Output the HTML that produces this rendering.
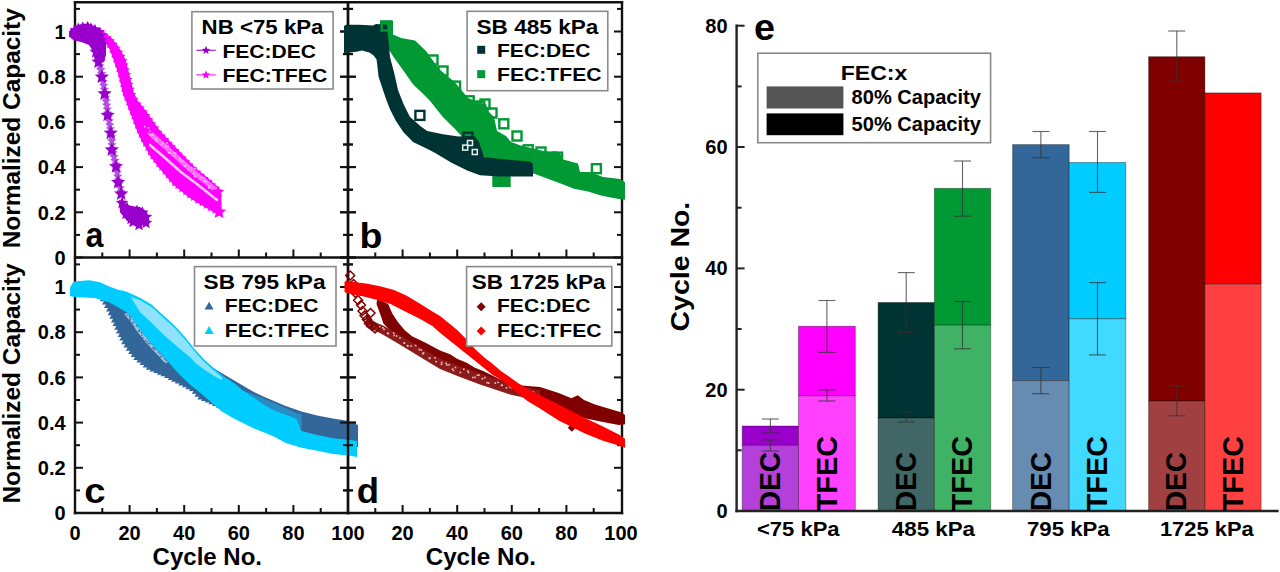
<!DOCTYPE html><html><head><meta charset="utf-8"><style>html,body{margin:0;padding:0;background:#fff;width:1280px;height:572px;overflow:hidden}svg{display:block}text{font-family:"Liberation Sans",sans-serif;font-weight:bold}</style></head><body><svg width="1280" height="572" viewBox="0 0 1280 572">
<rect width="1280" height="572" fill="#fff"/>
<defs><clipPath id="ca"><rect x="69.0" y="2.2" width="289.0" height="255.3"/></clipPath><clipPath id="cb"><rect x="344.0" y="2.2" width="281.0" height="255.3"/></clipPath><clipPath id="cc"><rect x="69.0" y="257.5" width="289.0" height="255.5"/></clipPath><clipPath id="cd"><rect x="344.0" y="257.5" width="281.0" height="255.5"/></clipPath></defs>
<line x1="75.0" y1="1.2000000000000002" x2="75.0" y2="514.2" stroke="#111" stroke-width="2.4"/>
<line x1="348.0" y1="1.2000000000000002" x2="348.0" y2="514.2" stroke="#111" stroke-width="2.4"/>
<line x1="622.0" y1="1.2000000000000002" x2="622.0" y2="514.2" stroke="#111" stroke-width="2.4"/>
<line x1="73.8" y1="2.2" x2="623.2" y2="2.2" stroke="#111" stroke-width="2.4"/>
<line x1="73.8" y1="257.5" x2="623.2" y2="257.5" stroke="#111" stroke-width="2.4"/>
<line x1="73.8" y1="513.0" x2="623.2" y2="513.0" stroke="#111" stroke-width="2.4"/>
<line x1="75.0" y1="257.5" x2="83.0" y2="257.5" stroke="#111" stroke-width="2.0"/>
<line x1="340.0" y1="257.5" x2="356.0" y2="257.5" stroke="#111" stroke-width="2.0"/>
<line x1="614.0" y1="257.5" x2="622.0" y2="257.5" stroke="#111" stroke-width="2.0"/>
<line x1="75.0" y1="234.9" x2="80.0" y2="234.9" stroke="#111" stroke-width="2.0"/>
<line x1="343.0" y1="234.9" x2="353.0" y2="234.9" stroke="#111" stroke-width="2.0"/>
<line x1="617.0" y1="234.9" x2="622.0" y2="234.9" stroke="#111" stroke-width="2.0"/>
<line x1="75.0" y1="212.3" x2="83.0" y2="212.3" stroke="#111" stroke-width="2.0"/>
<line x1="340.0" y1="212.3" x2="356.0" y2="212.3" stroke="#111" stroke-width="2.0"/>
<line x1="614.0" y1="212.3" x2="622.0" y2="212.3" stroke="#111" stroke-width="2.0"/>
<line x1="75.0" y1="189.7" x2="80.0" y2="189.7" stroke="#111" stroke-width="2.0"/>
<line x1="343.0" y1="189.7" x2="353.0" y2="189.7" stroke="#111" stroke-width="2.0"/>
<line x1="617.0" y1="189.7" x2="622.0" y2="189.7" stroke="#111" stroke-width="2.0"/>
<line x1="75.0" y1="167.1" x2="83.0" y2="167.1" stroke="#111" stroke-width="2.0"/>
<line x1="340.0" y1="167.1" x2="356.0" y2="167.1" stroke="#111" stroke-width="2.0"/>
<line x1="614.0" y1="167.1" x2="622.0" y2="167.1" stroke="#111" stroke-width="2.0"/>
<line x1="75.0" y1="144.5" x2="80.0" y2="144.5" stroke="#111" stroke-width="2.0"/>
<line x1="343.0" y1="144.5" x2="353.0" y2="144.5" stroke="#111" stroke-width="2.0"/>
<line x1="617.0" y1="144.5" x2="622.0" y2="144.5" stroke="#111" stroke-width="2.0"/>
<line x1="75.0" y1="121.9" x2="83.0" y2="121.9" stroke="#111" stroke-width="2.0"/>
<line x1="340.0" y1="121.9" x2="356.0" y2="121.9" stroke="#111" stroke-width="2.0"/>
<line x1="614.0" y1="121.9" x2="622.0" y2="121.9" stroke="#111" stroke-width="2.0"/>
<line x1="75.0" y1="99.3" x2="80.0" y2="99.3" stroke="#111" stroke-width="2.0"/>
<line x1="343.0" y1="99.3" x2="353.0" y2="99.3" stroke="#111" stroke-width="2.0"/>
<line x1="617.0" y1="99.3" x2="622.0" y2="99.3" stroke="#111" stroke-width="2.0"/>
<line x1="75.0" y1="76.7" x2="83.0" y2="76.7" stroke="#111" stroke-width="2.0"/>
<line x1="340.0" y1="76.7" x2="356.0" y2="76.7" stroke="#111" stroke-width="2.0"/>
<line x1="614.0" y1="76.7" x2="622.0" y2="76.7" stroke="#111" stroke-width="2.0"/>
<line x1="75.0" y1="54.1" x2="80.0" y2="54.1" stroke="#111" stroke-width="2.0"/>
<line x1="343.0" y1="54.1" x2="353.0" y2="54.1" stroke="#111" stroke-width="2.0"/>
<line x1="617.0" y1="54.1" x2="622.0" y2="54.1" stroke="#111" stroke-width="2.0"/>
<line x1="75.0" y1="31.5" x2="83.0" y2="31.5" stroke="#111" stroke-width="2.0"/>
<line x1="340.0" y1="31.5" x2="356.0" y2="31.5" stroke="#111" stroke-width="2.0"/>
<line x1="614.0" y1="31.5" x2="622.0" y2="31.5" stroke="#111" stroke-width="2.0"/>
<line x1="75.0" y1="8.9" x2="80.0" y2="8.9" stroke="#111" stroke-width="2.0"/>
<line x1="343.0" y1="8.9" x2="353.0" y2="8.9" stroke="#111" stroke-width="2.0"/>
<line x1="617.0" y1="8.9" x2="622.0" y2="8.9" stroke="#111" stroke-width="2.0"/>
<line x1="75.0" y1="513.0" x2="83.0" y2="513.0" stroke="#111" stroke-width="2.0"/>
<line x1="340.0" y1="513.0" x2="356.0" y2="513.0" stroke="#111" stroke-width="2.0"/>
<line x1="614.0" y1="513.0" x2="622.0" y2="513.0" stroke="#111" stroke-width="2.0"/>
<line x1="75.0" y1="490.4" x2="80.0" y2="490.4" stroke="#111" stroke-width="2.0"/>
<line x1="343.0" y1="490.4" x2="353.0" y2="490.4" stroke="#111" stroke-width="2.0"/>
<line x1="617.0" y1="490.4" x2="622.0" y2="490.4" stroke="#111" stroke-width="2.0"/>
<line x1="75.0" y1="467.8" x2="83.0" y2="467.8" stroke="#111" stroke-width="2.0"/>
<line x1="340.0" y1="467.8" x2="356.0" y2="467.8" stroke="#111" stroke-width="2.0"/>
<line x1="614.0" y1="467.8" x2="622.0" y2="467.8" stroke="#111" stroke-width="2.0"/>
<line x1="75.0" y1="445.2" x2="80.0" y2="445.2" stroke="#111" stroke-width="2.0"/>
<line x1="343.0" y1="445.2" x2="353.0" y2="445.2" stroke="#111" stroke-width="2.0"/>
<line x1="617.0" y1="445.2" x2="622.0" y2="445.2" stroke="#111" stroke-width="2.0"/>
<line x1="75.0" y1="422.6" x2="83.0" y2="422.6" stroke="#111" stroke-width="2.0"/>
<line x1="340.0" y1="422.6" x2="356.0" y2="422.6" stroke="#111" stroke-width="2.0"/>
<line x1="614.0" y1="422.6" x2="622.0" y2="422.6" stroke="#111" stroke-width="2.0"/>
<line x1="75.0" y1="400.0" x2="80.0" y2="400.0" stroke="#111" stroke-width="2.0"/>
<line x1="343.0" y1="400.0" x2="353.0" y2="400.0" stroke="#111" stroke-width="2.0"/>
<line x1="617.0" y1="400.0" x2="622.0" y2="400.0" stroke="#111" stroke-width="2.0"/>
<line x1="75.0" y1="377.4" x2="83.0" y2="377.4" stroke="#111" stroke-width="2.0"/>
<line x1="340.0" y1="377.4" x2="356.0" y2="377.4" stroke="#111" stroke-width="2.0"/>
<line x1="614.0" y1="377.4" x2="622.0" y2="377.4" stroke="#111" stroke-width="2.0"/>
<line x1="75.0" y1="354.8" x2="80.0" y2="354.8" stroke="#111" stroke-width="2.0"/>
<line x1="343.0" y1="354.8" x2="353.0" y2="354.8" stroke="#111" stroke-width="2.0"/>
<line x1="617.0" y1="354.8" x2="622.0" y2="354.8" stroke="#111" stroke-width="2.0"/>
<line x1="75.0" y1="332.2" x2="83.0" y2="332.2" stroke="#111" stroke-width="2.0"/>
<line x1="340.0" y1="332.2" x2="356.0" y2="332.2" stroke="#111" stroke-width="2.0"/>
<line x1="614.0" y1="332.2" x2="622.0" y2="332.2" stroke="#111" stroke-width="2.0"/>
<line x1="75.0" y1="309.6" x2="80.0" y2="309.6" stroke="#111" stroke-width="2.0"/>
<line x1="343.0" y1="309.6" x2="353.0" y2="309.6" stroke="#111" stroke-width="2.0"/>
<line x1="617.0" y1="309.6" x2="622.0" y2="309.6" stroke="#111" stroke-width="2.0"/>
<line x1="75.0" y1="287.0" x2="83.0" y2="287.0" stroke="#111" stroke-width="2.0"/>
<line x1="340.0" y1="287.0" x2="356.0" y2="287.0" stroke="#111" stroke-width="2.0"/>
<line x1="614.0" y1="287.0" x2="622.0" y2="287.0" stroke="#111" stroke-width="2.0"/>
<line x1="75.0" y1="264.4" x2="80.0" y2="264.4" stroke="#111" stroke-width="2.0"/>
<line x1="343.0" y1="264.4" x2="353.0" y2="264.4" stroke="#111" stroke-width="2.0"/>
<line x1="617.0" y1="264.4" x2="622.0" y2="264.4" stroke="#111" stroke-width="2.0"/>
<line x1="102.3" y1="257.5" x2="102.3" y2="252.5" stroke="#111" stroke-width="2.0"/>
<line x1="129.6" y1="257.5" x2="129.6" y2="249.5" stroke="#111" stroke-width="2.0"/>
<line x1="156.9" y1="257.5" x2="156.9" y2="252.5" stroke="#111" stroke-width="2.0"/>
<line x1="184.2" y1="257.5" x2="184.2" y2="249.5" stroke="#111" stroke-width="2.0"/>
<line x1="211.5" y1="257.5" x2="211.5" y2="252.5" stroke="#111" stroke-width="2.0"/>
<line x1="238.8" y1="257.5" x2="238.8" y2="249.5" stroke="#111" stroke-width="2.0"/>
<line x1="266.1" y1="257.5" x2="266.1" y2="252.5" stroke="#111" stroke-width="2.0"/>
<line x1="293.4" y1="257.5" x2="293.4" y2="249.5" stroke="#111" stroke-width="2.0"/>
<line x1="320.7" y1="257.5" x2="320.7" y2="252.5" stroke="#111" stroke-width="2.0"/>
<line x1="375.3" y1="257.5" x2="375.3" y2="252.5" stroke="#111" stroke-width="2.0"/>
<line x1="402.6" y1="257.5" x2="402.6" y2="249.5" stroke="#111" stroke-width="2.0"/>
<line x1="429.9" y1="257.5" x2="429.9" y2="252.5" stroke="#111" stroke-width="2.0"/>
<line x1="457.2" y1="257.5" x2="457.2" y2="249.5" stroke="#111" stroke-width="2.0"/>
<line x1="484.5" y1="257.5" x2="484.5" y2="252.5" stroke="#111" stroke-width="2.0"/>
<line x1="511.8" y1="257.5" x2="511.8" y2="249.5" stroke="#111" stroke-width="2.0"/>
<line x1="539.1" y1="257.5" x2="539.1" y2="252.5" stroke="#111" stroke-width="2.0"/>
<line x1="566.4" y1="257.5" x2="566.4" y2="249.5" stroke="#111" stroke-width="2.0"/>
<line x1="593.7" y1="257.5" x2="593.7" y2="252.5" stroke="#111" stroke-width="2.0"/>
<line x1="102.3" y1="513.0" x2="102.3" y2="508.0" stroke="#111" stroke-width="2.0"/>
<line x1="129.6" y1="513.0" x2="129.6" y2="505.0" stroke="#111" stroke-width="2.0"/>
<line x1="156.9" y1="513.0" x2="156.9" y2="508.0" stroke="#111" stroke-width="2.0"/>
<line x1="184.2" y1="513.0" x2="184.2" y2="505.0" stroke="#111" stroke-width="2.0"/>
<line x1="211.5" y1="513.0" x2="211.5" y2="508.0" stroke="#111" stroke-width="2.0"/>
<line x1="238.8" y1="513.0" x2="238.8" y2="505.0" stroke="#111" stroke-width="2.0"/>
<line x1="266.1" y1="513.0" x2="266.1" y2="508.0" stroke="#111" stroke-width="2.0"/>
<line x1="293.4" y1="513.0" x2="293.4" y2="505.0" stroke="#111" stroke-width="2.0"/>
<line x1="320.7" y1="513.0" x2="320.7" y2="508.0" stroke="#111" stroke-width="2.0"/>
<line x1="375.3" y1="513.0" x2="375.3" y2="508.0" stroke="#111" stroke-width="2.0"/>
<line x1="402.6" y1="513.0" x2="402.6" y2="505.0" stroke="#111" stroke-width="2.0"/>
<line x1="429.9" y1="513.0" x2="429.9" y2="508.0" stroke="#111" stroke-width="2.0"/>
<line x1="457.2" y1="513.0" x2="457.2" y2="505.0" stroke="#111" stroke-width="2.0"/>
<line x1="484.5" y1="513.0" x2="484.5" y2="508.0" stroke="#111" stroke-width="2.0"/>
<line x1="511.8" y1="513.0" x2="511.8" y2="505.0" stroke="#111" stroke-width="2.0"/>
<line x1="539.1" y1="513.0" x2="539.1" y2="508.0" stroke="#111" stroke-width="2.0"/>
<line x1="566.4" y1="513.0" x2="566.4" y2="505.0" stroke="#111" stroke-width="2.0"/>
<line x1="593.7" y1="513.0" x2="593.7" y2="508.0" stroke="#111" stroke-width="2.0"/>
<g clip-path="url(#ca)">
<polygon points="96.0,26.9 103.2,31.8 110.2,36.7 115.8,43.0 121.5,51.4 125.6,59.8 128.5,71.0 131.2,82.1 134.0,93.3 138.0,101.0 144.8,109.4 152.6,120.6 159.4,130.0 170.0,141.5 181.5,153.6 197.2,169.4 209.0,179.0 221.0,190.0 222.0,217.0 205.1,207.2 189.4,197.7 173.6,185.1 167.6,178.0 159.2,168.0 150.8,157.0 143.8,144.8 138.2,133.6 134.0,122.4 129.8,111.2 125.6,100.0 123.2,94.7 121.1,85.0 118.3,73.7 114.2,61.2 110.0,50.0 104.0,40.0 98.0,34.0" fill="#ff00ff" />
<polygon points="94.3,24.2 95.7,27.5 99.3,27.8 96.5,30.1 97.4,33.6 94.3,31.7 91.3,33.6 92.1,30.1 89.4,27.8 92.9,27.5" fill="#ff00ff" />
<polygon points="98.4,27.0 99.8,30.3 103.4,30.6 100.7,32.9 101.5,36.4 98.4,34.5 95.4,36.4 96.2,32.9 93.5,30.6 97.1,30.3" fill="#ff00ff" />
<polygon points="102.5,29.8 103.9,33.1 107.5,33.4 104.8,35.7 105.6,39.2 102.5,37.3 99.5,39.2 100.3,35.7 97.6,33.4 101.2,33.1" fill="#ff00ff" />
<polygon points="106.6,32.7 108.0,36.0 111.6,36.3 108.9,38.6 109.7,42.1 106.6,40.2 103.6,42.1 104.4,38.6 101.7,36.3 105.3,36.0" fill="#ff00ff" />
<polygon points="109.8,35.5 111.2,38.9 114.7,39.1 112.0,41.5 112.8,45.0 109.8,43.1 106.7,45.0 107.6,41.5 104.8,39.1 108.4,38.9" fill="#ff00ff" />
<polygon points="113.1,39.3 114.5,42.6 118.0,42.9 115.3,45.2 116.2,48.7 113.1,46.8 110.0,48.7 110.9,45.2 108.2,42.9 111.7,42.6" fill="#ff00ff" />
<polygon points="115.7,43.1 117.1,46.4 120.7,46.6 118.0,49.0 118.8,52.5 115.7,50.6 112.7,52.5 113.5,49.0 110.8,46.6 114.4,46.4" fill="#ff00ff" />
<polygon points="118.5,47.2 119.9,50.5 123.5,50.8 120.8,53.1 121.6,56.6 118.5,54.7 115.5,56.6 116.3,53.1 113.6,50.8 117.2,50.5" fill="#ff00ff" />
<polygon points="120.6,51.3 122.0,54.6 125.6,54.9 122.9,57.2 123.7,60.7 120.6,58.8 117.6,60.7 118.4,57.2 115.7,54.9 119.3,54.6" fill="#ff00ff" />
<polygon points="122.8,55.8 124.2,59.1 127.8,59.3 125.0,61.7 125.9,65.2 122.8,63.3 119.8,65.2 120.6,61.7 117.9,59.3 121.4,59.1" fill="#ff00ff" />
<polygon points="123.9,60.0 125.3,63.3 128.8,63.6 126.1,65.9 127.0,69.4 123.9,67.6 120.8,69.4 121.7,65.9 119.0,63.6 122.5,63.3" fill="#ff00ff" />
<polygon points="125.2,64.9 126.5,68.2 130.1,68.5 127.4,70.8 128.2,74.3 125.2,72.4 122.1,74.3 122.9,70.8 120.2,68.5 123.8,68.2" fill="#ff00ff" />
<polygon points="126.4,69.7 127.7,73.0 131.3,73.3 128.6,75.6 129.4,79.1 126.4,77.2 123.3,79.1 124.1,75.6 121.4,73.3 125.0,73.0" fill="#ff00ff" />
<polygon points="127.5,74.5 128.9,77.8 132.5,78.1 129.8,80.4 130.6,83.9 127.5,82.1 124.5,83.9 125.3,80.4 122.6,78.1 126.2,77.8" fill="#ff00ff" />
<polygon points="128.7,79.4 130.1,82.7 133.7,83.0 131.0,85.3 131.8,88.8 128.7,86.9 125.7,88.8 126.5,85.3 123.8,83.0 127.4,82.7" fill="#ff00ff" />
<polygon points="129.9,84.2 131.3,87.6 134.9,87.8 132.2,90.2 133.0,93.7 129.9,91.8 126.9,93.7 127.7,90.2 125.0,87.8 128.6,87.6" fill="#ff00ff" />
<polygon points="131.5,89.7 132.8,93.0 136.4,93.3 133.7,95.7 134.5,99.1 131.5,97.3 128.4,99.1 129.2,95.7 126.5,93.3 130.1,93.0" fill="#ff00ff" />
<polygon points="133.8,94.2 135.1,97.5 138.7,97.8 136.0,100.1 136.8,103.6 133.8,101.7 130.7,103.6 131.5,100.1 128.8,97.8 132.4,97.5" fill="#ff00ff" />
<polygon points="136.7,98.9 138.1,102.2 141.6,102.5 138.9,104.9 139.7,108.3 136.7,106.5 133.6,108.3 134.5,104.9 131.7,102.5 135.3,102.2" fill="#ff00ff" />
<polygon points="139.8,102.8 141.2,106.1 144.8,106.4 142.0,108.7 142.9,112.2 139.8,110.4 136.8,112.2 137.6,108.7 134.9,106.4 138.4,106.1" fill="#ff00ff" />
<polygon points="142.8,106.6 144.2,109.9 147.7,110.2 145.0,112.5 145.8,116.0 142.8,114.1 139.7,116.0 140.6,112.5 137.8,110.2 141.4,109.9" fill="#ff00ff" />
<polygon points="145.7,110.7 147.0,114.0 150.6,114.3 147.9,116.6 148.7,120.1 145.7,118.2 142.6,120.1 143.4,116.6 140.7,114.3 144.3,114.0" fill="#ff00ff" />
<polygon points="148.5,114.8 149.9,118.1 153.5,118.4 150.7,120.7 151.6,124.2 148.5,122.3 145.5,124.2 146.3,120.7 143.6,118.4 147.1,118.1" fill="#ff00ff" />
<polygon points="151.4,118.9 152.8,122.2 156.4,122.5 153.7,124.8 154.5,128.3 151.4,126.4 148.4,128.3 149.2,124.8 146.5,122.5 150.1,122.2" fill="#ff00ff" />
<polygon points="154.4,122.9 155.7,126.3 159.3,126.5 156.6,128.9 157.4,132.4 154.4,130.5 151.3,132.4 152.1,128.9 149.4,126.5 153.0,126.3" fill="#ff00ff" />
<polygon points="157.6,127.2 158.9,130.5 162.5,130.8 159.8,133.2 160.6,136.6 157.6,134.8 154.5,136.6 155.3,133.2 152.6,130.8 156.2,130.5" fill="#ff00ff" />
<polygon points="161.0,130.9 162.3,134.2 165.9,134.5 163.2,136.8 164.0,140.3 161.0,138.5 157.9,140.3 158.7,136.8 156.0,134.5 159.6,134.2" fill="#ff00ff" />
<polygon points="164.3,134.6 165.7,137.9 169.3,138.2 166.6,140.5 167.4,144.0 164.3,142.1 161.3,144.0 162.1,140.5 159.4,138.2 163.0,137.9" fill="#ff00ff" />
<polygon points="167.7,138.3 169.1,141.6 172.7,141.9 170.0,144.2 170.8,147.7 167.7,145.8 164.7,147.7 165.5,144.2 162.8,141.9 166.4,141.6" fill="#ff00ff" />
<polygon points="171.2,141.9 172.6,145.2 176.2,145.5 173.4,147.8 174.3,151.3 171.2,149.5 168.1,151.3 169.0,147.8 166.3,145.5 169.8,145.2" fill="#ff00ff" />
<polygon points="174.6,145.5 176.0,148.9 179.6,149.1 176.9,151.5 177.7,155.0 174.6,153.1 171.6,155.0 172.4,151.5 169.7,149.1 173.3,148.9" fill="#ff00ff" />
<polygon points="178.1,149.2 179.5,152.5 183.0,152.8 180.3,155.1 181.2,158.6 178.1,156.7 175.0,158.6 175.9,155.1 173.1,152.8 176.7,152.5" fill="#ff00ff" />
<polygon points="181.6,152.8 183.0,156.1 186.6,156.4 183.9,158.7 184.7,162.2 181.6,160.3 178.6,162.2 179.4,158.7 176.7,156.4 180.3,156.1" fill="#ff00ff" />
<polygon points="185.2,156.3 186.5,159.6 190.1,159.9 187.4,162.3 188.2,165.7 185.2,163.9 182.1,165.7 182.9,162.3 180.2,159.9 183.8,159.6" fill="#ff00ff" />
<polygon points="188.7,159.9 190.1,163.2 193.6,163.5 190.9,165.8 191.7,169.3 188.7,167.4 185.6,169.3 186.5,165.8 183.7,163.5 187.3,163.2" fill="#ff00ff" />
<polygon points="192.2,163.4 193.6,166.7 197.2,167.0 194.4,169.4 195.3,172.8 192.2,171.0 189.2,172.8 190.0,169.4 187.3,167.0 190.8,166.7" fill="#ff00ff" />
<polygon points="196.0,167.1 197.4,170.4 201.0,170.7 198.3,173.0 199.1,176.5 196.0,174.7 193.0,176.5 193.8,173.0 191.1,170.7 194.7,170.4" fill="#ff00ff" />
<polygon points="199.9,170.3 201.3,173.6 204.9,173.9 202.1,176.2 203.0,179.7 199.9,177.8 196.9,179.7 197.7,176.2 195.0,173.9 198.5,173.6" fill="#ff00ff" />
<polygon points="203.8,173.4 205.2,176.7 208.7,177.0 206.0,179.4 206.8,182.8 203.8,181.0 200.7,182.8 201.6,179.4 198.8,177.0 202.4,176.7" fill="#ff00ff" />
<polygon points="207.5,176.5 208.9,179.8 212.5,180.1 209.7,182.4 210.6,185.9 207.5,184.0 204.5,185.9 205.3,182.4 202.6,180.1 206.1,179.8" fill="#ff00ff" />
<polygon points="211.2,179.9 212.6,183.2 216.1,183.5 213.4,185.8 214.3,189.3 211.2,187.4 208.1,189.3 209.0,185.8 206.2,183.5 209.8,183.2" fill="#ff00ff" />
<polygon points="214.9,183.3 216.3,186.6 219.8,186.9 217.1,189.2 217.9,192.7 214.9,190.8 211.8,192.7 212.7,189.2 209.9,186.9 213.5,186.6" fill="#ff00ff" />
<polygon points="218.6,186.6 219.9,189.9 223.5,190.2 220.8,192.6 221.6,196.0 218.6,194.2 215.5,196.0 216.3,192.6 213.6,190.2 217.2,189.9" fill="#ff00ff" />
<polygon points="100.1,26.7 101.5,30.0 105.1,30.3 102.3,32.6 103.2,36.1 100.1,34.2 97.1,36.1 97.9,32.6 95.2,30.3 98.7,30.0" fill="#ff00ff" />
<polygon points="103.7,30.2 105.0,33.5 108.6,33.8 105.9,36.1 106.7,39.6 103.7,37.8 100.6,39.6 101.4,36.1 98.7,33.8 102.3,33.5" fill="#ff00ff" />
<polygon points="107.4,34.6 108.7,37.9 112.3,38.1 109.6,40.5 110.4,44.0 107.4,42.1 104.3,44.0 105.1,40.5 102.4,38.1 106.0,37.9" fill="#ff00ff" />
<polygon points="109.9,38.8 111.3,42.1 114.9,42.4 112.1,44.8 113.0,48.2 109.9,46.4 106.9,48.2 107.7,44.8 105.0,42.4 108.5,42.1" fill="#ff00ff" />
<polygon points="112.5,43.1 113.9,46.4 117.4,46.7 114.7,49.1 115.6,52.5 112.5,50.7 109.4,52.5 110.3,49.1 107.6,46.7 111.1,46.4" fill="#ff00ff" />
<polygon points="114.5,48.3 115.9,51.6 119.5,51.9 116.7,54.2 117.6,57.7 114.5,55.8 111.5,57.7 112.3,54.2 109.6,51.9 113.1,51.6" fill="#ff00ff" />
<polygon points="116.3,53.0 117.6,56.3 121.2,56.6 118.5,58.9 119.3,62.4 116.3,60.5 113.2,62.4 114.0,58.9 111.3,56.6 114.9,56.3" fill="#ff00ff" />
<polygon points="118.0,57.8 119.3,61.1 122.9,61.4 120.2,63.7 121.0,67.2 118.0,65.4 114.9,67.2 115.7,63.7 113.0,61.4 116.6,61.1" fill="#ff00ff" />
<polygon points="119.5,62.6 120.9,65.9 124.5,66.2 121.7,68.5 122.6,72.0 119.5,70.1 116.5,72.0 117.3,68.5 114.6,66.2 118.1,65.9" fill="#ff00ff" />
<polygon points="121.1,67.3 122.4,70.6 126.0,70.9 123.3,73.2 124.1,76.7 121.1,74.9 118.0,76.7 118.8,73.2 116.1,70.9 119.7,70.6" fill="#ff00ff" />
<polygon points="122.4,72.4 123.7,75.7 127.3,76.0 124.6,78.3 125.4,81.8 122.4,79.9 119.3,81.8 120.1,78.3 117.4,76.0 121.0,75.7" fill="#ff00ff" />
<polygon points="123.6,77.2 124.9,80.5 128.5,80.8 125.8,83.2 126.6,86.6 123.6,84.8 120.5,86.6 121.3,83.2 118.6,80.8 122.2,80.5" fill="#ff00ff" />
<polygon points="124.7,82.2 126.1,85.5 129.6,85.8 126.9,88.1 127.7,91.6 124.7,89.7 121.6,91.6 122.5,88.1 119.7,85.8 123.3,85.5" fill="#ff00ff" />
<polygon points="125.7,87.1 127.1,90.4 130.7,90.7 128.0,93.0 128.8,96.5 125.7,94.6 122.7,96.5 123.5,93.0 120.8,90.7 124.4,90.4" fill="#ff00ff" />
<polygon points="127.2,91.1 128.6,94.5 132.2,94.7 129.5,97.1 130.3,100.6 127.2,98.7 124.2,100.6 125.0,97.1 122.3,94.7 125.9,94.5" fill="#ff00ff" />
<polygon points="129.2,95.9 130.6,99.3 134.2,99.5 131.5,101.9 132.3,105.4 129.2,103.5 126.2,105.4 127.0,101.9 124.3,99.5 127.9,99.3" fill="#ff00ff" />
<polygon points="131.0,100.6 132.4,103.9 135.9,104.2 133.2,106.6 134.0,110.0 131.0,108.2 127.9,110.0 128.8,106.6 126.0,104.2 129.6,103.9" fill="#ff00ff" />
<polygon points="132.7,105.3 134.1,108.6 137.7,108.9 135.0,111.2 135.8,114.7 132.7,112.9 129.7,114.7 130.5,111.2 127.8,108.9 131.4,108.6" fill="#ff00ff" />
<polygon points="134.5,110.0 135.9,113.3 139.4,113.6 136.7,115.9 137.6,119.4 134.5,117.5 131.4,119.4 132.3,115.9 129.6,113.6 133.1,113.3" fill="#ff00ff" />
<polygon points="136.3,114.7 137.6,118.0 141.2,118.3 138.5,120.6 139.3,124.1 136.3,122.2 133.2,124.1 134.0,120.6 131.3,118.3 134.9,118.0" fill="#ff00ff" />
<polygon points="138.0,119.4 139.4,122.7 143.0,122.9 140.2,125.3 141.1,128.8 138.0,126.9 135.0,128.8 135.8,125.3 133.1,122.9 136.6,122.7" fill="#ff00ff" />
<polygon points="139.8,124.0 141.1,127.3 144.7,127.6 142.0,130.0 142.8,133.4 139.8,131.6 136.7,133.4 137.5,130.0 134.8,127.6 138.4,127.3" fill="#ff00ff" />
<polygon points="141.5,128.4 142.9,131.7 146.5,132.0 143.8,134.3 144.6,137.8 141.5,135.9 138.5,137.8 139.3,134.3 136.6,132.0 140.2,131.7" fill="#ff00ff" />
<polygon points="143.8,132.8 145.2,136.1 148.7,136.4 146.0,138.8 146.8,142.2 143.8,140.4 140.7,142.2 141.5,138.8 138.8,136.4 142.4,136.1" fill="#ff00ff" />
<polygon points="146.0,137.3 147.4,140.6 151.0,140.9 148.2,143.2 149.1,146.7 146.0,144.9 143.0,146.7 143.8,143.2 141.1,140.9 144.6,140.6" fill="#ff00ff" />
<polygon points="148.4,141.5 149.7,144.8 153.3,145.1 150.6,147.5 151.4,150.9 148.4,149.1 145.3,150.9 146.1,147.5 143.4,145.1 147.0,144.8" fill="#ff00ff" />
<polygon points="150.9,145.9 152.2,149.2 155.8,149.5 153.1,151.8 153.9,155.3 150.9,153.4 147.8,155.3 148.6,151.8 145.9,149.5 149.5,149.2" fill="#ff00ff" />
<polygon points="153.3,150.2 154.7,153.5 158.3,153.8 155.6,156.1 156.4,159.6 153.3,157.7 150.3,159.6 151.1,156.1 148.4,153.8 152.0,153.5" fill="#ff00ff" />
<polygon points="156.1,153.9 157.5,157.2 161.1,157.5 158.4,159.8 159.2,163.3 156.1,161.4 153.1,163.3 153.9,159.8 151.2,157.5 154.8,157.2" fill="#ff00ff" />
<polygon points="159.2,157.8 160.6,161.1 164.1,161.4 161.4,163.8 162.2,167.2 159.2,165.4 156.1,167.2 157.0,163.8 154.2,161.4 157.8,161.1" fill="#ff00ff" />
<polygon points="162.2,161.7 163.5,165.0 167.1,165.3 164.4,167.6 165.2,171.1 162.2,169.2 159.1,171.1 159.9,167.6 157.2,165.3 160.8,165.0" fill="#ff00ff" />
<polygon points="165.4,165.5 166.8,168.8 170.3,169.1 167.6,171.4 168.4,174.9 165.4,173.0 162.3,174.9 163.2,171.4 160.4,169.1 164.0,168.8" fill="#ff00ff" />
<polygon points="168.6,169.3 170.0,172.6 173.5,172.9 170.8,175.2 171.7,178.7 168.6,176.9 165.5,178.7 166.4,175.2 163.7,172.9 167.2,172.6" fill="#ff00ff" />
<polygon points="171.8,173.1 173.2,176.4 176.8,176.7 174.0,179.1 174.9,182.5 171.8,180.7 168.8,182.5 169.6,179.1 166.9,176.7 170.4,176.4" fill="#ff00ff" />
<polygon points="175.0,177.0 176.4,180.3 180.0,180.6 177.3,182.9 178.1,186.4 175.0,184.5 172.0,186.4 172.8,182.9 170.1,180.6 173.7,180.3" fill="#ff00ff" />
<polygon points="178.3,179.9 179.7,183.2 183.3,183.4 180.6,185.8 181.4,189.3 178.3,187.4 175.3,189.3 176.1,185.8 173.4,183.4 177.0,183.2" fill="#ff00ff" />
<polygon points="182.3,183.0 183.6,186.3 187.2,186.6 184.5,188.9 185.3,192.4 182.3,190.5 179.2,192.4 180.0,188.9 177.3,186.6 180.9,186.3" fill="#ff00ff" />
<polygon points="186.2,186.1 187.5,189.4 191.1,189.7 188.4,192.0 189.2,195.5 186.2,193.6 183.1,195.5 183.9,192.0 181.2,189.7 184.8,189.4" fill="#ff00ff" />
<polygon points="190.1,189.2 191.5,192.5 195.0,192.8 192.3,195.1 193.1,198.6 190.1,196.7 187.0,198.6 187.9,195.1 185.1,192.8 188.7,192.5" fill="#ff00ff" />
<polygon points="193.9,191.7 195.3,195.0 198.9,195.3 196.2,197.7 197.0,201.1 193.9,199.3 190.9,201.1 191.7,197.7 189.0,195.3 192.5,195.0" fill="#ff00ff" />
<polygon points="198.2,194.3 199.6,197.6 203.1,197.9 200.4,200.2 201.3,203.7 198.2,201.9 195.1,203.7 196.0,200.2 193.3,197.9 196.8,197.6" fill="#ff00ff" />
<polygon points="202.5,196.9 203.9,200.2 207.4,200.5 204.7,202.8 205.5,206.3 202.5,204.4 199.4,206.3 200.3,202.8 197.5,200.5 201.1,200.2" fill="#ff00ff" />
<polygon points="206.7,199.5 208.1,202.8 211.7,203.1 208.9,205.4 209.8,208.9 206.7,207.0 203.7,208.9 204.5,205.4 201.8,203.1 205.3,202.8" fill="#ff00ff" />
<polygon points="211.0,202.0 212.4,205.3 216.0,205.6 213.3,207.9 214.1,211.4 211.0,209.5 208.0,211.4 208.8,207.9 206.1,205.6 209.7,205.3" fill="#ff00ff" />
<polygon points="215.4,204.5 216.7,207.8 220.3,208.1 217.6,210.4 218.4,213.9 215.4,212.0 212.3,213.9 213.1,210.4 210.4,208.1 214.0,207.8" fill="#ff00ff" />
<polygon points="219.7,207.0 221.1,210.3 224.6,210.6 221.9,212.9 222.7,216.4 219.7,214.5 216.6,216.4 217.5,212.9 214.7,210.6 218.3,210.3" fill="#ff00ff" />
<polyline points="152.0,135.0 165.7,147.0 181.5,161.5 197.2,175.0 217.0,191.0" fill="none" stroke="#ff6aff" stroke-width="5" stroke-linejoin="round" stroke-linecap="round" />
<polyline points="150.0,145.0 165.7,158.4 181.5,172.5 197.2,184.3 217.0,200.0" fill="none" stroke="#ffc8ff" stroke-width="2.6" stroke-linejoin="round" stroke-linecap="round" />
<rect x="143.9" y="125.9" width="1.5" height="1.5" fill="#ffd0ff"/>
<rect x="147.7" y="127.1" width="1.5" height="1.5" fill="#ffd0ff"/>
<rect x="148.9" y="130.6" width="1.5" height="1.5" fill="#ffd0ff"/>
<rect x="147.9" y="133.1" width="1.5" height="1.5" fill="#ffd0ff"/>
<rect x="149.6" y="134.4" width="1.5" height="1.5" fill="#ffd0ff"/>
<rect x="151.6" y="134.0" width="1.5" height="1.5" fill="#ffd0ff"/>
<rect x="155.6" y="140.1" width="1.5" height="1.5" fill="#ffd0ff"/>
<rect x="155.6" y="138.2" width="1.5" height="1.5" fill="#ffd0ff"/>
<rect x="160.5" y="144.2" width="1.5" height="1.5" fill="#ffd0ff"/>
<rect x="162.0" y="142.6" width="1.5" height="1.5" fill="#ffd0ff"/>
<rect x="166.3" y="142.2" width="1.5" height="1.5" fill="#ffd0ff"/>
<rect x="167.4" y="145.3" width="1.5" height="1.5" fill="#ffd0ff"/>
<rect x="165.0" y="146.0" width="1.5" height="1.5" fill="#ffd0ff"/>
<rect x="167.8" y="151.9" width="1.5" height="1.5" fill="#ffd0ff"/>
<rect x="168.9" y="152.2" width="1.5" height="1.5" fill="#ffd0ff"/>
<rect x="173.5" y="152.6" width="1.5" height="1.5" fill="#ffd0ff"/>
<rect x="174.8" y="152.4" width="1.5" height="1.5" fill="#ffd0ff"/>
<rect x="173.7" y="155.0" width="1.5" height="1.5" fill="#ffd0ff"/>
<rect x="179.2" y="158.0" width="1.5" height="1.5" fill="#ffd0ff"/>
<rect x="178.9" y="160.6" width="1.5" height="1.5" fill="#ffd0ff"/>
<rect x="181.6" y="160.6" width="1.5" height="1.5" fill="#ffd0ff"/>
<rect x="185.5" y="164.6" width="1.5" height="1.5" fill="#ffd0ff"/>
<rect x="184.1" y="165.5" width="1.5" height="1.5" fill="#ffd0ff"/>
<rect x="187.7" y="168.9" width="1.5" height="1.5" fill="#ffd0ff"/>
<rect x="190.8" y="167.0" width="1.5" height="1.5" fill="#ffd0ff"/>
<rect x="194.2" y="167.7" width="1.5" height="1.5" fill="#ffd0ff"/>
<rect x="192.7" y="173.1" width="1.5" height="1.5" fill="#ffd0ff"/>
<rect x="193.0" y="173.1" width="1.5" height="1.5" fill="#ffd0ff"/>
<rect x="194.2" y="175.8" width="1.5" height="1.5" fill="#ffd0ff"/>
<rect x="200.5" y="176.9" width="1.5" height="1.5" fill="#ffd0ff"/>
<rect x="203.1" y="176.9" width="1.5" height="1.5" fill="#ffd0ff"/>
<rect x="204.0" y="180.1" width="1.5" height="1.5" fill="#ffd0ff"/>
<rect x="205.3" y="180.9" width="1.5" height="1.5" fill="#ffd0ff"/>
<rect x="208.8" y="185.4" width="1.5" height="1.5" fill="#ffd0ff"/>
<rect x="208.5" y="185.3" width="1.5" height="1.5" fill="#ffd0ff"/>
<rect x="208.0" y="187.1" width="1.5" height="1.5" fill="#ffd0ff"/>
<rect x="213.4" y="190.4" width="1.5" height="1.5" fill="#ffd0ff"/>
<rect x="216.4" y="187.7" width="1.5" height="1.5" fill="#ffd0ff"/>
<rect x="215.8" y="191.6" width="1.5" height="1.5" fill="#ffd0ff"/>
<polygon points="218.0,185.5 219.7,189.6 224.2,190.0 220.8,192.9 221.8,197.3 218.0,194.9 214.2,197.3 215.2,192.9 211.8,190.0 216.3,189.6" fill="#ff00ff" />
<polygon points="219.0,204.5 221.0,209.3 226.1,209.7 222.2,213.0 223.4,218.1 219.0,215.4 214.6,218.1 215.8,213.0 211.9,209.7 217.0,209.3" fill="#ff00ff" />
<polygon points="69.5,31.0 73.0,28.0 76.4,25.5 82.0,24.1 87.6,23.4 96.0,26.9 101.0,30.0 104.0,36.0 106.0,45.0 106.0,55.0 104.0,62.0 96.0,64.0 94.6,59.8 93.2,51.4 89.0,45.0 82.0,42.3 73.6,40.2 69.5,37.0" fill="#9900cc" />
<polygon points="71.3,27.6 72.8,31.1 76.6,31.4 73.7,33.9 74.6,37.6 71.3,35.6 68.1,37.6 69.0,33.9 66.1,31.4 69.9,31.1" fill="#9900cc" />
<polygon points="75.0,24.5 76.4,28.0 80.2,28.3 77.3,30.8 78.2,34.5 75.0,32.5 71.7,34.5 72.6,30.8 69.7,28.3 73.5,28.0" fill="#9900cc" />
<polygon points="78.2,22.4 79.7,25.9 83.4,26.2 80.6,28.7 81.4,32.4 78.2,30.4 75.0,32.4 75.9,28.7 73.0,26.2 76.8,25.9" fill="#9900cc" />
<polygon points="82.7,21.3 84.2,24.8 88.0,25.1 85.1,27.6 86.0,31.3 82.7,29.3 79.5,31.3 80.4,27.6 77.5,25.1 81.3,24.8" fill="#9900cc" />
<polygon points="87.7,20.7 89.2,24.2 92.9,24.5 90.1,27.0 90.9,30.7 87.7,28.7 84.5,30.7 85.3,27.0 82.5,24.5 86.2,24.2" fill="#9900cc" />
<polygon points="90.9,22.3 92.4,25.8 96.1,26.1 93.3,28.6 94.1,32.3 90.9,30.3 87.7,32.3 88.6,28.6 85.7,26.1 89.5,25.8" fill="#9900cc" />
<polygon points="95.1,24.1 96.5,27.6 100.3,27.9 97.4,30.4 98.3,34.1 95.1,32.1 91.8,34.1 92.7,30.4 89.8,27.9 93.6,27.6" fill="#9900cc" />
<polygon points="99.3,26.8 100.8,30.3 104.6,30.6 101.7,33.0 102.6,36.7 99.3,34.7 96.1,36.7 97.0,33.0 94.1,30.6 97.9,30.3" fill="#9900cc" />
<polygon points="100.6,30.0 102.1,33.5 105.9,33.8 103.0,36.3 103.9,40.0 100.6,38.0 97.4,40.0 98.3,36.3 95.4,33.8 99.2,33.5" fill="#9900cc" />
<polygon points="101.9,34.1 103.4,37.6 107.2,37.9 104.3,40.4 105.2,44.0 101.9,42.1 98.7,44.0 99.6,40.4 96.7,37.9 100.5,37.6" fill="#9900cc" />
<polygon points="103.0,39.0 104.5,42.5 108.2,42.8 105.4,45.2 106.2,48.9 103.0,47.0 99.8,48.9 100.7,45.2 97.8,42.8 101.6,42.5" fill="#9900cc" />
<polygon points="99.0,57.0 100.3,60.2 103.8,60.5 101.1,62.7 101.9,66.0 99.0,64.2 96.1,66.0 96.9,62.7 94.2,60.5 97.7,60.2" fill="#b450e6" />
<polygon points="99.9,60.9 101.2,64.1 104.6,64.4 102.0,66.6 102.8,70.0 99.9,68.2 96.9,70.0 97.7,66.6 95.1,64.4 98.5,64.1" fill="#b450e6" />
<polygon points="100.7,64.8 102.0,68.0 105.5,68.3 102.9,70.5 103.7,73.9 100.7,72.1 97.8,73.9 98.6,70.5 96.0,68.3 99.4,68.0" fill="#b450e6" />
<polygon points="101.6,68.7 102.9,71.9 106.3,72.2 103.7,74.4 104.5,77.8 101.6,76.0 98.6,77.8 99.4,74.4 96.8,72.2 100.3,71.9" fill="#b450e6" />
<polygon points="102.4,72.6 103.7,75.8 107.2,76.1 104.5,78.3 105.3,81.7 102.4,79.9 99.5,81.7 100.3,78.3 97.7,76.1 101.1,75.8" fill="#b450e6" />
<polygon points="103.1,76.6 104.4,79.8 107.8,80.0 105.2,82.3 106.0,85.6 103.1,83.8 100.1,85.6 100.9,82.3 98.3,80.0 101.7,79.8" fill="#b450e6" />
<polygon points="103.7,80.5 105.0,83.7 108.5,84.0 105.9,86.2 106.7,89.6 103.7,87.8 100.8,89.6 101.6,86.2 99.0,84.0 102.4,83.7" fill="#b450e6" />
<polygon points="104.4,84.5 105.7,87.6 109.1,87.9 106.5,90.2 107.3,93.5 104.4,91.7 101.4,93.5 102.2,90.2 99.6,87.9 103.1,87.6" fill="#b450e6" />
<polygon points="105.0,88.4 106.4,91.6 109.8,91.9 107.2,94.1 108.0,97.5 105.0,95.7 102.1,97.5 102.9,94.1 100.3,91.9 103.7,91.6" fill="#b450e6" />
<polygon points="105.6,92.4 106.9,95.6 110.4,95.8 107.7,98.1 108.5,101.4 105.6,99.6 102.7,101.4 103.5,98.1 100.8,95.8 104.3,95.6" fill="#b450e6" />
<polygon points="106.2,96.3 107.5,99.5 110.9,99.8 108.3,102.0 109.1,105.4 106.2,103.6 103.2,105.4 104.0,102.0 101.4,99.8 104.8,99.5" fill="#b450e6" />
<polygon points="106.7,100.3 108.0,103.5 111.5,103.8 108.9,106.0 109.7,109.3 106.7,107.5 103.8,109.3 104.6,106.0 102.0,103.8 105.4,103.5" fill="#b450e6" />
<polygon points="107.3,104.3 108.6,107.4 112.0,107.7 109.4,110.0 110.2,113.3 107.3,111.5 104.3,113.3 105.1,110.0 102.5,107.7 105.9,107.4" fill="#b450e6" />
<polygon points="107.8,108.2 109.1,111.4 112.6,111.7 110.0,113.9 110.8,117.3 107.8,115.5 104.9,117.3 105.7,113.9 103.1,111.7 106.5,111.4" fill="#b450e6" />
<polygon points="108.4,112.2 109.8,115.4 113.2,115.6 110.6,117.9 111.4,121.2 108.4,119.4 105.5,121.2 106.3,117.9 103.7,115.6 107.1,115.4" fill="#b450e6" />
<polygon points="109.1,116.1 110.4,119.3 113.9,119.6 111.3,121.8 112.1,125.2 109.1,123.4 106.2,125.2 107.0,121.8 104.4,119.6 107.8,119.3" fill="#b450e6" />
<polygon points="109.8,120.1 111.1,123.2 114.6,123.5 111.9,125.7 112.7,129.1 109.8,127.3 106.9,129.1 107.7,125.7 105.1,123.5 108.5,123.2" fill="#b450e6" />
<polygon points="110.5,124.0 111.8,127.2 115.2,127.4 112.6,129.7 113.4,133.0 110.5,131.2 107.6,133.0 108.3,129.7 105.7,127.4 109.2,127.2" fill="#b450e6" />
<polygon points="111.2,127.9 112.5,131.1 115.9,131.4 113.3,133.6 114.1,137.0 111.2,135.2 108.2,137.0 109.0,133.6 106.4,131.4 109.8,131.1" fill="#b450e6" />
<polygon points="111.5,131.9 112.8,135.1 116.2,135.4 113.6,137.6 114.4,141.0 111.5,139.2 108.5,141.0 109.3,137.6 106.7,135.4 110.1,135.1" fill="#b450e6" />
<polygon points="111.7,135.9 113.0,139.1 116.5,139.4 113.9,141.6 114.7,145.0 111.7,143.2 108.8,145.0 109.6,141.6 107.0,139.4 110.4,139.1" fill="#b450e6" />
<polygon points="112.0,139.9 113.3,143.1 116.7,143.4 114.1,145.6 114.9,149.0 112.0,147.2 109.0,149.0 109.8,145.6 107.2,143.4 110.7,143.1" fill="#b450e6" />
<polygon points="112.2,143.9 113.6,147.1 117.0,147.4 114.4,149.6 115.2,152.9 112.2,151.2 109.3,152.9 110.1,149.6 107.5,147.4 110.9,147.1" fill="#b450e6" />
<polygon points="113.0,147.8 114.4,151.0 117.8,151.3 115.2,153.5 116.0,156.9 113.0,155.1 110.1,156.9 110.9,153.5 108.3,151.3 111.7,151.0" fill="#b450e6" />
<polygon points="114.0,151.7 115.3,154.9 118.8,155.1 116.1,157.4 116.9,160.7 114.0,158.9 111.1,160.7 111.9,157.4 109.3,155.1 112.7,154.9" fill="#b450e6" />
<polygon points="115.0,155.6 116.3,158.7 119.7,159.0 117.1,161.3 117.9,164.6 115.0,162.8 112.0,164.6 112.8,161.3 110.2,159.0 113.7,158.7" fill="#b450e6" />
<polygon points="116.0,159.4 117.3,162.6 120.7,162.9 118.1,165.1 118.9,168.5 116.0,166.7 113.0,168.5 113.8,165.1 111.2,162.9 114.6,162.6" fill="#b450e6" />
<polygon points="116.7,163.4 118.1,166.5 121.5,166.8 118.9,169.1 119.7,172.4 116.7,170.6 113.8,172.4 114.6,169.1 112.0,166.8 115.4,166.5" fill="#b450e6" />
<polygon points="117.3,167.3 118.6,170.5 122.0,170.8 119.4,173.0 120.2,176.4 117.3,174.6 114.3,176.4 115.1,173.0 112.5,170.8 115.9,170.5" fill="#b450e6" />
<polygon points="117.8,171.3 119.1,174.5 122.5,174.7 119.9,177.0 120.7,180.3 117.8,178.5 114.8,180.3 115.6,177.0 113.0,174.7 116.5,174.5" fill="#b450e6" />
<polygon points="118.3,175.3 119.6,178.4 123.1,178.7 120.5,181.0 121.3,184.3 118.3,182.5 115.4,184.3 116.2,181.0 113.6,178.7 117.0,178.4" fill="#b450e6" />
<polygon points="119.1,179.2 120.4,182.4 123.8,182.6 121.2,184.9 122.0,188.2 119.1,186.4 116.1,188.2 116.9,184.9 114.3,182.6 117.8,182.4" fill="#b450e6" />
<polygon points="120.1,183.0 121.4,186.2 124.9,186.5 122.3,188.7 123.1,192.1 120.1,190.3 117.2,192.1 118.0,188.7 115.4,186.5 118.8,186.2" fill="#b450e6" />
<polygon points="121.2,186.9 122.5,190.1 125.9,190.4 123.3,192.6 124.1,195.9 121.2,194.1 118.2,195.9 119.0,192.6 116.4,190.4 119.8,190.1" fill="#b450e6" />
<polygon points="98.5,54.5 100.5,59.3 105.6,59.7 101.7,63.0 102.9,68.1 98.5,65.4 94.1,68.1 95.3,63.0 91.4,59.7 96.5,59.3" fill="#9900cc" />
<polygon points="101.8,69.5 103.8,74.3 108.9,74.7 105.0,78.0 106.2,83.1 101.8,80.4 97.4,83.1 98.6,78.0 94.7,74.7 99.8,74.3" fill="#9900cc" />
<polygon points="104.6,86.3 106.6,91.1 111.7,91.5 107.8,94.8 109.0,99.9 104.6,97.2 100.2,99.9 101.4,94.8 97.5,91.5 102.6,91.1" fill="#9900cc" />
<polygon points="107.6,107.7 109.6,112.5 114.7,112.9 110.8,116.2 112.0,121.3 107.6,118.6 103.2,121.3 104.4,116.2 100.5,112.9 105.6,112.5" fill="#9900cc" />
<polygon points="110.7,125.6 112.7,130.4 117.8,130.8 113.9,134.1 115.1,139.2 110.7,136.5 106.3,139.2 107.5,134.1 103.6,130.8 108.7,130.4" fill="#9900cc" />
<polygon points="111.8,142.4 113.8,147.2 118.9,147.6 115.0,150.9 116.2,156.0 111.8,153.3 107.4,156.0 108.6,150.9 104.7,147.6 109.8,147.2" fill="#9900cc" />
<polygon points="116.0,159.1 118.0,163.9 123.1,164.3 119.2,167.6 120.4,172.7 116.0,170.0 111.6,172.7 112.8,167.6 108.9,164.3 114.0,163.9" fill="#9900cc" />
<polygon points="118.1,174.9 120.1,179.7 125.2,180.1 121.3,183.4 122.5,188.5 118.1,185.8 113.7,188.5 114.9,183.4 111.0,180.1 116.1,179.7" fill="#9900cc" />
<polygon points="121.2,186.4 123.2,191.2 128.3,191.6 124.4,194.9 125.6,200.0 121.2,197.3 116.8,200.0 118.0,194.9 114.1,191.6 119.2,191.2" fill="#9900cc" />
<polygon points="96.0,45.0 97.9,49.5 102.7,49.8 99.0,53.0 100.1,57.7 96.0,55.1 91.9,57.7 93.0,53.0 89.3,49.8 94.1,49.5" fill="#9900cc" />
<polygon points="119.0,200.0 130.0,206.0 140.0,207.0 147.0,212.0 148.0,222.0 138.0,224.0 127.0,221.0 120.0,212.0" fill="#9900cc"/>
<polygon points="122.0,196.5 123.7,200.6 128.2,201.0 124.8,203.9 125.8,208.3 122.0,205.9 118.2,208.3 119.2,203.9 115.8,201.0 120.3,200.6" fill="#9900cc" />
<polygon points="127.0,201.5 128.7,205.6 133.2,206.0 129.8,208.9 130.8,213.3 127.0,210.9 123.2,213.3 124.2,208.9 120.8,206.0 125.3,205.6" fill="#9900cc" />
<polygon points="132.0,208.3 133.7,212.4 138.2,212.8 134.8,215.7 135.8,220.1 132.0,217.7 128.2,220.1 129.2,215.7 125.8,212.8 130.3,212.4" fill="#9900cc" />
<polygon points="137.0,204.5 138.7,208.6 143.2,209.0 139.8,211.9 140.8,216.3 137.0,213.9 133.2,216.3 134.2,211.9 130.8,209.0 135.3,208.6" fill="#9900cc" />
<polygon points="142.4,206.2 144.1,210.3 148.6,210.7 145.2,213.6 146.2,218.0 142.4,215.6 138.6,218.0 139.6,213.6 136.2,210.7 140.7,210.3" fill="#9900cc" />
<polygon points="142.4,214.5 144.1,218.6 148.6,219.0 145.2,221.9 146.2,226.3 142.4,223.9 138.6,226.3 139.6,221.9 136.2,219.0 140.7,218.6" fill="#9900cc" />
<polygon points="137.0,212.5 138.7,216.6 143.2,217.0 139.8,219.9 140.8,224.3 137.0,221.9 133.2,224.3 134.2,219.9 130.8,217.0 135.3,216.6" fill="#9900cc" />
<polygon points="131.0,212.5 132.7,216.6 137.2,217.0 133.8,219.9 134.8,224.3 131.0,221.9 127.2,224.3 128.2,219.9 124.8,217.0 129.3,216.6" fill="#9900cc" />
<polygon points="126.0,207.5 127.7,211.6 132.2,212.0 128.8,214.9 129.8,219.3 126.0,216.9 122.2,219.3 123.2,214.9 119.8,212.0 124.3,211.6" fill="#9900cc" />
<polygon points="146.0,210.5 147.7,214.6 152.2,215.0 148.8,217.9 149.8,222.3 146.0,219.9 142.2,222.3 143.2,217.9 139.8,215.0 144.3,214.6" fill="#9900cc" />
<polygon points="146.0,216.5 147.7,220.6 152.2,221.0 148.8,223.9 149.8,228.3 146.0,225.9 142.2,228.3 143.2,223.9 139.8,221.0 144.3,220.6" fill="#9900cc" />
<polygon points="139.0,218.5 140.7,222.6 145.2,223.0 141.8,225.9 142.8,230.3 139.0,227.9 135.2,230.3 136.2,225.9 132.8,223.0 137.3,222.6" fill="#9900cc" />
<polygon points="133.0,215.5 134.7,219.6 139.2,220.0 135.8,222.9 136.8,227.3 133.0,224.9 129.2,227.3 130.2,222.9 126.8,220.0 131.3,219.6" fill="#9900cc" />
</g>
<line x1="348.0" y1="1.0000000000000002" x2="348.0" y2="258.7" stroke="#111" stroke-width="2.4"/>
<line x1="340.0" y1="257.5" x2="356.0" y2="257.5" stroke="#111" stroke-width="2.0"/>
<line x1="343.0" y1="234.9" x2="353.0" y2="234.9" stroke="#111" stroke-width="2.0"/>
<line x1="340.0" y1="212.3" x2="356.0" y2="212.3" stroke="#111" stroke-width="2.0"/>
<line x1="343.0" y1="189.7" x2="353.0" y2="189.7" stroke="#111" stroke-width="2.0"/>
<line x1="340.0" y1="167.1" x2="356.0" y2="167.1" stroke="#111" stroke-width="2.0"/>
<line x1="343.0" y1="144.5" x2="353.0" y2="144.5" stroke="#111" stroke-width="2.0"/>
<line x1="340.0" y1="121.9" x2="356.0" y2="121.9" stroke="#111" stroke-width="2.0"/>
<line x1="343.0" y1="99.3" x2="353.0" y2="99.3" stroke="#111" stroke-width="2.0"/>
<line x1="340.0" y1="76.7" x2="356.0" y2="76.7" stroke="#111" stroke-width="2.0"/>
<line x1="343.0" y1="54.1" x2="353.0" y2="54.1" stroke="#111" stroke-width="2.0"/>
<line x1="340.0" y1="31.5" x2="356.0" y2="31.5" stroke="#111" stroke-width="2.0"/>
<line x1="343.0" y1="8.9" x2="353.0" y2="8.9" stroke="#111" stroke-width="2.0"/>
<g clip-path="url(#cb)">
<polygon points="380.0,20.6 393.0,20.6 393.0,34.6 401.0,38.0 415.0,40.5 426.0,51.0 439.0,69.0 455.0,82.5 468.0,98.0 481.0,103.0 486.0,104.0 488.0,111.0 494.0,117.0 497.0,131.0 506.0,136.0 511.0,142.0 520.0,145.3 533.0,148.5 545.5,151.6 560.0,153.2 563.0,159.4 578.0,163.6 580.0,172.0 590.0,172.0 603.0,177.0 620.0,179.0 628.0,184.0 628.0,200.0 616.0,198.6 602.0,195.8 588.0,191.6 574.0,188.8 560.0,183.2 535.0,174.0 500.0,163.0 480.0,155.0 464.9,140.0 455.5,129.5 442.9,117.0 430.3,101.2 425.0,95.8 413.0,84.2 403.5,70.8 393.8,57.3 388.4,49.0 380.0,40.0" fill="#009933" />
<rect x="492.3" y="172" width="18.4" height="15" fill="#009933"/>
<polygon points="344.0,26.0 346.0,24.8 359.0,24.8 373.0,25.5 376.0,24.1 387.0,24.8 388.0,36.0 390.0,57.0 394.2,72.9 398.0,90.0 403.6,104.3 410.0,117.0 420.9,126.5 427.2,131.0 442.9,134.2 458.6,136.5 466.0,136.0 474.3,136.0 479.0,142.0 484.0,157.0 500.0,159.0 530.0,161.5 533.0,164.0 533.0,176.5 500.0,176.5 480.0,175.3 467.2,170.6 451.5,162.7 435.7,153.3 425.0,147.7 413.0,142.0 403.5,132.3 395.8,120.8 390.0,109.2 386.2,99.6 382.3,88.0 378.5,76.5 377.5,67.0 376.5,59.2 373.6,55.5 369.4,52.5 362.0,50.5 357.8,51.5 350.5,52.5 344.0,53.0" fill="#003333" />
<rect x="415.4" y="110.9" width="9" height="9" fill="none" stroke="#003333" stroke-width="2.4"/>
<rect x="463.4" y="132.7" width="9" height="9" fill="none" stroke="#003333" stroke-width="2.4"/>
<rect x="462.7" y="145.1" width="5" height="5" fill="none" stroke="#e8f0ee" stroke-width="1.5"/>
<rect x="472.3" y="149.5" width="5" height="5" fill="none" stroke="#e8f0ee" stroke-width="1.5"/>
<rect x="467.5" y="140.5" width="5" height="5" fill="none" stroke="#e8f0ee" stroke-width="1.5"/>
<rect x="381.7" y="21.5" width="9" height="9" fill="none" stroke="#009933" stroke-width="2.4"/>
<rect x="451.1" y="81.6" width="9" height="9" fill="none" stroke="#009933" stroke-width="2.4"/>
<rect x="464.7" y="96.3" width="9" height="9" fill="none" stroke="#009933" stroke-width="2.4"/>
<rect x="475.2" y="101.5" width="9" height="9" fill="none" stroke="#009933" stroke-width="2.4"/>
<rect x="499.3" y="119.3" width="9" height="9" fill="none" stroke="#009933" stroke-width="2.4"/>
<rect x="480.5" y="99.5" width="9" height="9" fill="none" stroke="#009933" stroke-width="2.4"/>
<rect x="523.7" y="145.3" width="9" height="9" fill="none" stroke="#009933" stroke-width="2.4"/>
<rect x="546.8" y="152.6" width="9" height="9" fill="none" stroke="#009933" stroke-width="2.4"/>
<rect x="553.1" y="152.6" width="9" height="9" fill="none" stroke="#009933" stroke-width="2.4"/>
<rect x="591.9" y="164.2" width="9" height="9" fill="none" stroke="#009933" stroke-width="2.4"/>
<rect x="438.5" y="66.5" width="9" height="9" fill="none" stroke="#009933" stroke-width="2.4"/>
<rect x="428.5" y="55.5" width="9" height="9" fill="none" stroke="#009933" stroke-width="2.4"/>
<rect x="487.5" y="108.5" width="9" height="9" fill="none" stroke="#009933" stroke-width="2.4"/>
<rect x="512.5" y="131.5" width="9" height="9" fill="none" stroke="#009933" stroke-width="2.4"/>
<rect x="536.5" y="147.5" width="9" height="9" fill="none" stroke="#009933" stroke-width="2.4"/>
</g>
<g clip-path="url(#cc)">
<polygon points="70.0,288.0 100.0,288.0 126.0,298.0 150.0,318.0 175.0,340.0 200.0,360.0 230.0,378.0 252.9,391.4 263.4,396.6 274.0,401.0 285.7,406.0 301.5,411.5 317.2,415.4 333.0,418.5 348.7,421.0 358.0,425.0 358.0,447.0 297.0,436.0 250.0,420.0 200.0,398.0 193.3,390.6 180.2,383.5 164.4,375.5 148.7,368.5 135.6,358.0 125.0,344.0 117.2,327.7 109.3,310.0 103.4,300.2 95.0,296.0 70.0,296.0" fill="#336699" />
<polygon points="103.4,295.2 106.9,301.2 99.9,301.2" fill="#336699" stroke="none" stroke-width="1"/>
<polygon points="105.5,298.6 109.0,304.6 102.0,304.6" fill="#336699" stroke="none" stroke-width="1"/>
<polygon points="107.5,302.0 111.0,308.1 104.0,308.1" fill="#336699" stroke="none" stroke-width="1"/>
<polygon points="109.5,305.5 113.0,311.5 106.0,311.5" fill="#336699" stroke="none" stroke-width="1"/>
<polygon points="111.2,309.1 114.7,315.2 107.7,315.2" fill="#336699" stroke="none" stroke-width="1"/>
<polygon points="112.8,312.8 116.3,318.8 109.3,318.8" fill="#336699" stroke="none" stroke-width="1"/>
<polygon points="114.4,316.4 117.9,322.5 110.9,322.5" fill="#336699" stroke="none" stroke-width="1"/>
<polygon points="116.0,320.1 119.5,326.1 112.5,326.1" fill="#336699" stroke="none" stroke-width="1"/>
<polygon points="117.7,323.7 121.2,329.8 114.2,329.8" fill="#336699" stroke="none" stroke-width="1"/>
<polygon points="119.4,327.3 122.9,333.4 115.9,333.4" fill="#336699" stroke="none" stroke-width="1"/>
<polygon points="121.2,330.9 124.7,337.0 117.7,337.0" fill="#336699" stroke="none" stroke-width="1"/>
<polygon points="122.9,334.5 126.4,340.6 119.4,340.6" fill="#336699" stroke="none" stroke-width="1"/>
<polygon points="124.6,338.2 128.1,344.2 121.1,344.2" fill="#336699" stroke="none" stroke-width="1"/>
<polygon points="126.9,341.4 130.4,347.5 123.4,347.5" fill="#336699" stroke="none" stroke-width="1"/>
<polygon points="129.3,344.6 132.8,350.7 125.8,350.7" fill="#336699" stroke="none" stroke-width="1"/>
<polygon points="131.7,347.8 135.2,353.9 128.2,353.9" fill="#336699" stroke="none" stroke-width="1"/>
<polygon points="134.1,351.0 137.6,357.1 130.6,357.1" fill="#336699" stroke="none" stroke-width="1"/>
<polygon points="136.8,353.9 140.3,360.0 133.3,360.0" fill="#336699" stroke="none" stroke-width="1"/>
<polygon points="139.9,356.4 143.4,362.5 136.4,362.5" fill="#336699" stroke="none" stroke-width="1"/>
<polygon points="143.0,358.9 146.5,365.0 139.5,365.0" fill="#336699" stroke="none" stroke-width="1"/>
<polygon points="146.2,361.4 149.7,367.5 142.7,367.5" fill="#336699" stroke="none" stroke-width="1"/>
<polygon points="149.4,363.8 152.9,369.8 145.9,369.8" fill="#336699" stroke="none" stroke-width="1"/>
<polygon points="153.0,365.4 156.5,371.5 149.5,371.5" fill="#336699" stroke="none" stroke-width="1"/>
<polygon points="156.7,367.0 160.2,373.1 153.2,373.1" fill="#336699" stroke="none" stroke-width="1"/>
<polygon points="160.4,368.7 163.9,374.7 156.9,374.7" fill="#336699" stroke="none" stroke-width="1"/>
<polygon points="164.0,370.3 167.5,376.3 160.5,376.3" fill="#336699" stroke="none" stroke-width="1"/>
<polygon points="167.6,372.1 171.1,378.1 164.1,378.1" fill="#336699" stroke="none" stroke-width="1"/>
<polygon points="171.2,373.9 174.7,379.9 167.7,379.9" fill="#336699" stroke="none" stroke-width="1"/>
<polygon points="174.7,375.7 178.2,381.7 171.2,381.7" fill="#336699" stroke="none" stroke-width="1"/>
<polygon points="178.3,377.5 181.8,383.6 174.8,383.6" fill="#336699" stroke="none" stroke-width="1"/>
<polygon points="181.8,379.3 185.3,385.4 178.3,385.4" fill="#336699" stroke="none" stroke-width="1"/>
<polygon points="185.4,381.3 188.9,387.3 181.9,387.3" fill="#336699" stroke="none" stroke-width="1"/>
<polygon points="188.9,383.2 192.4,389.2 185.4,389.2" fill="#336699" stroke="none" stroke-width="1"/>
<polygon points="192.4,385.1 195.9,391.1 188.9,391.1" fill="#336699" stroke="none" stroke-width="1"/>
<polygon points="195.3,387.8 198.8,393.8 191.8,393.8" fill="#336699" stroke="none" stroke-width="1"/>
<polygon points="198.0,390.7 201.5,396.8 194.5,396.8" fill="#336699" stroke="none" stroke-width="1"/>
<polygon points="200.9,393.4 204.4,399.4 197.4,399.4" fill="#336699" stroke="none" stroke-width="1"/>
<polygon points="204.6,395.0 208.1,401.0 201.1,401.0" fill="#336699" stroke="none" stroke-width="1"/>
<polygon points="208.2,396.6 211.7,402.6 204.7,402.6" fill="#336699" stroke="none" stroke-width="1"/>
<polygon points="211.9,398.2 215.4,404.2 208.4,404.2" fill="#336699" stroke="none" stroke-width="1"/>
<polygon points="215.5,399.8 219.0,405.9 212.0,405.9" fill="#336699" stroke="none" stroke-width="1"/>
<polygon points="219.2,401.4 222.7,407.5 215.7,407.5" fill="#336699" stroke="none" stroke-width="1"/>
<polygon points="222.9,403.0 226.4,409.1 219.4,409.1" fill="#336699" stroke="none" stroke-width="1"/>
<polygon points="226.5,404.6 230.0,410.7 223.0,410.7" fill="#336699" stroke="none" stroke-width="1"/>
<polygon points="230.2,406.2 233.7,412.3 226.7,412.3" fill="#336699" stroke="none" stroke-width="1"/>
<polygon points="233.8,407.9 237.3,413.9 230.3,413.9" fill="#336699" stroke="none" stroke-width="1"/>
<polygon points="237.5,409.5 241.0,415.5 234.0,415.5" fill="#336699" stroke="none" stroke-width="1"/>
<polygon points="241.2,411.1 244.7,417.1 237.7,417.1" fill="#336699" stroke="none" stroke-width="1"/>
<polygon points="244.8,412.7 248.3,418.7 241.3,418.7" fill="#336699" stroke="none" stroke-width="1"/>
<polygon points="248.5,414.3 252.0,420.4 245.0,420.4" fill="#336699" stroke="none" stroke-width="1"/>
<polygon points="70.0,287.5 73.7,281.6 89.5,280.2 100.0,282.2 108.7,286.2 117.4,289.5 126.2,291.5 140.0,297.7 151.5,304.4 163.0,315.0 174.6,325.6 185.0,337.0 194.6,349.0 204.2,359.5 213.8,368.0 223.5,376.2 235.0,383.8 242.4,390.3 250.8,394.5 263.0,404.0 274.0,410.0 290.0,416.0 297.0,419.0 301.5,431.0 317.2,435.0 333.0,438.2 348.7,439.8 357.0,441.0 357.0,457.0 348.7,455.5 333.0,454.0 317.2,450.8 301.5,447.7 285.7,443.0 273.9,436.4 263.4,432.2 252.9,428.0 242.4,422.8 232.0,417.6 221.4,411.3 211.0,402.0 200.5,393.0 190.0,384.5 178.9,374.0 168.4,362.0 157.9,350.5 147.4,339.5 136.9,326.0 131.0,317.0 126.2,312.0 117.4,307.0 108.7,302.0 102.6,300.6 95.0,298.0 74.0,297.0 70.0,296.0" fill="#00ccff" />
<polygon points="131.0,297.0 140.0,300.2 151.5,306.9 163.0,317.5 174.6,328.1 185.0,339.5 194.6,351.5 204.2,362.0 213.8,370.5 222.0,377.5 222.0,380.0 215.0,376.5 205.0,370.0 196.5,364.0 190.0,357.3 178.5,347.7 163.0,334.2 151.5,322.7 140.0,312.0 135.0,304.0 131.0,297.5" fill="#8fe2fb" />
<polyline points="126.2,314.5 131.0,319.5 136.9,328.5 147.4,342.0 157.9,353.0 166.0,362.0" fill="none" stroke="#a8c0dc" stroke-width="3" stroke-linejoin="round" stroke-linecap="round" />
<rect x="126.1" y="314.7" width="1.3" height="1.3" fill="#336699"/>
<rect x="129.0" y="316.0" width="1.3" height="1.3" fill="#336699"/>
<rect x="129.3" y="317.9" width="1.3" height="1.3" fill="#336699"/>
<rect x="129.8" y="319.3" width="1.3" height="1.3" fill="#336699"/>
<rect x="132.4" y="321.9" width="1.3" height="1.3" fill="#336699"/>
<rect x="132.0" y="322.3" width="1.3" height="1.3" fill="#336699"/>
<rect x="133.2" y="325.7" width="1.3" height="1.3" fill="#336699"/>
<rect x="136.2" y="325.2" width="1.3" height="1.3" fill="#336699"/>
<rect x="138.3" y="329.8" width="1.3" height="1.3" fill="#336699"/>
<rect x="138.7" y="330.5" width="1.3" height="1.3" fill="#336699"/>
<rect x="138.5" y="330.4" width="1.3" height="1.3" fill="#336699"/>
<rect x="141.0" y="332.3" width="1.3" height="1.3" fill="#336699"/>
<rect x="141.3" y="334.6" width="1.3" height="1.3" fill="#336699"/>
<rect x="142.2" y="337.0" width="1.3" height="1.3" fill="#336699"/>
<rect x="144.8" y="339.9" width="1.3" height="1.3" fill="#336699"/>
<rect x="146.4" y="341.0" width="1.3" height="1.3" fill="#336699"/>
<rect x="147.7" y="342.8" width="1.3" height="1.3" fill="#336699"/>
<rect x="149.1" y="343.2" width="1.3" height="1.3" fill="#336699"/>
<rect x="152.2" y="347.0" width="1.3" height="1.3" fill="#336699"/>
<rect x="153.3" y="347.7" width="1.3" height="1.3" fill="#336699"/>
<rect x="153.2" y="347.8" width="1.3" height="1.3" fill="#336699"/>
<rect x="154.6" y="349.0" width="1.3" height="1.3" fill="#336699"/>
<rect x="157.6" y="351.5" width="1.3" height="1.3" fill="#336699"/>
<rect x="159.3" y="353.1" width="1.3" height="1.3" fill="#336699"/>
<rect x="161.1" y="356.1" width="1.3" height="1.3" fill="#336699"/>
<rect x="159.7" y="355.8" width="1.3" height="1.3" fill="#336699"/>
<rect x="163.9" y="358.3" width="1.3" height="1.3" fill="#336699"/>
<rect x="165.6" y="359.7" width="1.3" height="1.3" fill="#336699"/>
<rect x="164.4" y="362.0" width="1.3" height="1.3" fill="#336699"/>
<polygon points="248.0,392.0 263.4,398.6 274.0,403.0 285.7,408.0 297.0,413.5 301.5,414.0 301.5,431.0 297.0,419.0 290.0,416.0 274.0,410.0 263.0,404.0 248.0,394.0" fill="#2a8cc4" />
</g>
<line x1="348.0" y1="256.3" x2="348.0" y2="514.2" stroke="#111" stroke-width="2.4"/>
<line x1="340.0" y1="513.0" x2="356.0" y2="513.0" stroke="#111" stroke-width="2.0"/>
<line x1="343.0" y1="490.4" x2="353.0" y2="490.4" stroke="#111" stroke-width="2.0"/>
<line x1="340.0" y1="467.8" x2="356.0" y2="467.8" stroke="#111" stroke-width="2.0"/>
<line x1="343.0" y1="445.2" x2="353.0" y2="445.2" stroke="#111" stroke-width="2.0"/>
<line x1="340.0" y1="422.6" x2="356.0" y2="422.6" stroke="#111" stroke-width="2.0"/>
<line x1="343.0" y1="400.0" x2="353.0" y2="400.0" stroke="#111" stroke-width="2.0"/>
<line x1="340.0" y1="377.4" x2="356.0" y2="377.4" stroke="#111" stroke-width="2.0"/>
<line x1="343.0" y1="354.8" x2="353.0" y2="354.8" stroke="#111" stroke-width="2.0"/>
<line x1="340.0" y1="332.2" x2="356.0" y2="332.2" stroke="#111" stroke-width="2.0"/>
<line x1="343.0" y1="309.6" x2="353.0" y2="309.6" stroke="#111" stroke-width="2.0"/>
<line x1="340.0" y1="287.0" x2="356.0" y2="287.0" stroke="#111" stroke-width="2.0"/>
<line x1="343.0" y1="264.4" x2="353.0" y2="264.4" stroke="#111" stroke-width="2.0"/>
<g clip-path="url(#cd)">
<polygon points="377.0,300.0 381.0,300.5 388.2,304.0 392.4,313.8 398.0,322.2 405.0,330.6 412.0,336.2 426.0,343.1 440.0,350.6 450.0,354.3 457.5,359.0 466.2,362.4 475.0,367.7 483.7,371.2 501.2,380.0 518.7,385.2 540.0,387.0 558.7,393.0 571.5,398.3 577.8,395.2 584.0,400.0 595.0,404.6 610.8,409.3 621.8,412.5 628.0,417.2 628.0,424.0 618.7,425.0 603.0,422.0 587.2,418.8 571.5,414.0 558.7,408.7 530.0,393.0 501.0,384.0 475.0,374.0 450.0,364.1 433.0,355.7 419.0,348.7 405.0,341.7 391.8,332.0 383.4,323.6 380.6,315.2 376.5,304.0" fill="#800000" />
<polygon points="366.0,315.5 376.0,322.5 384.0,326.0 398.0,334.1 412.0,342.5 426.0,350.8 440.0,358.5 460.0,366.5 480.0,373.5 510.0,383.5 540.0,390.5 540.0,401.0 510.0,394.5 480.0,384.5 460.0,377.0 440.0,369.0 426.0,360.5 412.0,352.0 398.0,343.6 384.0,335.3 376.0,331.0 366.0,327.0" fill="#8c1c1c" />
<rect x="364.4" y="319.4" width="1.6" height="1.6" fill="#e9c4c4"/>
<rect x="365.2" y="319.7" width="1.6" height="1.6" fill="#e9c4c4"/>
<rect x="371.7" y="320.7" width="1.6" height="1.6" fill="#e9c4c4"/>
<rect x="368.0" y="324.2" width="1.6" height="1.6" fill="#e9c4c4"/>
<rect x="374.4" y="324.9" width="1.6" height="1.6" fill="#e9c4c4"/>
<rect x="378.8" y="326.0" width="1.6" height="1.6" fill="#e9c4c4"/>
<rect x="383.3" y="328.5" width="1.6" height="1.6" fill="#e9c4c4"/>
<rect x="382.1" y="327.0" width="1.6" height="1.6" fill="#e9c4c4"/>
<rect x="387.5" y="332.9" width="1.6" height="1.6" fill="#e9c4c4"/>
<rect x="386.8" y="332.4" width="1.6" height="1.6" fill="#e9c4c4"/>
<rect x="392.9" y="332.3" width="1.6" height="1.6" fill="#e9c4c4"/>
<rect x="393.4" y="334.7" width="1.6" height="1.6" fill="#e9c4c4"/>
<rect x="395.8" y="335.2" width="1.6" height="1.6" fill="#e9c4c4"/>
<rect x="399.2" y="337.2" width="1.6" height="1.6" fill="#e9c4c4"/>
<rect x="403.5" y="342.1" width="1.6" height="1.6" fill="#e9c4c4"/>
<rect x="403.5" y="342.3" width="1.6" height="1.6" fill="#e9c4c4"/>
<rect x="406.7" y="344.8" width="1.6" height="1.6" fill="#e9c4c4"/>
<rect x="407.0" y="345.4" width="1.6" height="1.6" fill="#e9c4c4"/>
<rect x="414.8" y="344.7" width="1.6" height="1.6" fill="#e9c4c4"/>
<rect x="410.3" y="345.3" width="1.6" height="1.6" fill="#e9c4c4"/>
<rect x="420.4" y="349.3" width="1.6" height="1.6" fill="#e9c4c4"/>
<rect x="418.4" y="348.7" width="1.6" height="1.6" fill="#e9c4c4"/>
<rect x="422.8" y="352.1" width="1.6" height="1.6" fill="#e9c4c4"/>
<rect x="421.9" y="353.0" width="1.6" height="1.6" fill="#e9c4c4"/>
<rect x="428.5" y="357.5" width="1.6" height="1.6" fill="#e9c4c4"/>
<rect x="429.1" y="357.6" width="1.6" height="1.6" fill="#e9c4c4"/>
<rect x="435.4" y="360.8" width="1.6" height="1.6" fill="#e9c4c4"/>
<rect x="434.3" y="357.0" width="1.6" height="1.6" fill="#e9c4c4"/>
<rect x="440.7" y="363.5" width="1.6" height="1.6" fill="#e9c4c4"/>
<rect x="440.9" y="361.7" width="1.6" height="1.6" fill="#e9c4c4"/>
<rect x="445.3" y="362.5" width="1.6" height="1.6" fill="#e9c4c4"/>
<rect x="446.0" y="364.2" width="1.6" height="1.6" fill="#e9c4c4"/>
<rect x="448.3" y="364.1" width="1.6" height="1.6" fill="#e9c4c4"/>
<rect x="451.7" y="368.3" width="1.6" height="1.6" fill="#e9c4c4"/>
<rect x="452.7" y="369.7" width="1.6" height="1.6" fill="#e9c4c4"/>
<rect x="454.6" y="366.7" width="1.6" height="1.6" fill="#e9c4c4"/>
<rect x="459.5" y="371.7" width="1.6" height="1.6" fill="#e9c4c4"/>
<rect x="463.0" y="368.5" width="1.6" height="1.6" fill="#e9c4c4"/>
<rect x="467.1" y="370.4" width="1.6" height="1.6" fill="#e9c4c4"/>
<rect x="467.7" y="371.7" width="1.6" height="1.6" fill="#e9c4c4"/>
<rect x="474.3" y="376.6" width="1.6" height="1.6" fill="#e9c4c4"/>
<rect x="472.1" y="376.7" width="1.6" height="1.6" fill="#e9c4c4"/>
<rect x="476.6" y="374.5" width="1.6" height="1.6" fill="#e9c4c4"/>
<rect x="478.3" y="374.3" width="1.6" height="1.6" fill="#e9c4c4"/>
<rect x="481.6" y="378.0" width="1.6" height="1.6" fill="#e9c4c4"/>
<rect x="484.1" y="376.8" width="1.6" height="1.6" fill="#e9c4c4"/>
<rect x="486.3" y="381.9" width="1.6" height="1.6" fill="#e9c4c4"/>
<rect x="488.0" y="382.3" width="1.6" height="1.6" fill="#e9c4c4"/>
<rect x="497.2" y="381.6" width="1.6" height="1.6" fill="#e9c4c4"/>
<rect x="494.5" y="382.3" width="1.6" height="1.6" fill="#e9c4c4"/>
<rect x="501.3" y="384.5" width="1.6" height="1.6" fill="#e9c4c4"/>
<rect x="500.8" y="384.6" width="1.6" height="1.6" fill="#e9c4c4"/>
<rect x="508.8" y="386.0" width="1.6" height="1.6" fill="#e9c4c4"/>
<rect x="505.7" y="387.0" width="1.6" height="1.6" fill="#e9c4c4"/>
<rect x="510.3" y="386.8" width="1.6" height="1.6" fill="#e9c4c4"/>
<rect x="514.8" y="387.8" width="1.6" height="1.6" fill="#e9c4c4"/>
<rect x="518.0" y="386.9" width="1.6" height="1.6" fill="#e9c4c4"/>
<rect x="517.2" y="389.4" width="1.6" height="1.6" fill="#e9c4c4"/>
<rect x="520.7" y="390.9" width="1.6" height="1.6" fill="#e9c4c4"/>
<rect x="524.4" y="388.4" width="1.6" height="1.6" fill="#e9c4c4"/>
<rect x="530.2" y="391.6" width="1.6" height="1.6" fill="#e9c4c4"/>
<rect x="530.5" y="391.1" width="1.6" height="1.6" fill="#e9c4c4"/>
<rect x="536.5" y="394.2" width="1.6" height="1.6" fill="#e9c4c4"/>
<rect x="532.4" y="391.2" width="1.6" height="1.6" fill="#e9c4c4"/>
<polygon points="350.2,271.0 354.7,275.5 350.2,280.0 345.7,275.5" fill="none" stroke="#800000" stroke-width="1.5"/>
<polygon points="353.5,279.5 358.0,284.0 353.5,288.5 349.0,284.0" fill="none" stroke="#800000" stroke-width="1.5"/>
<polygon points="355.5,288.5 360.0,293.0 355.5,297.5 351.0,293.0" fill="none" stroke="#800000" stroke-width="1.5"/>
<polygon points="358.1,295.8 362.6,300.3 358.1,304.8 353.6,300.3" fill="none" stroke="#800000" stroke-width="1.5"/>
<polygon points="361.0,300.5 365.5,305.0 361.0,309.5 356.5,305.0" fill="none" stroke="#800000" stroke-width="1.5"/>
<polygon points="362.5,306.5 367.0,311.0 362.5,315.5 358.0,311.0" fill="none" stroke="#800000" stroke-width="1.5"/>
<polygon points="364.5,311.0 369.0,315.5 364.5,320.0 360.0,315.5" fill="none" stroke="#800000" stroke-width="1.5"/>
<polygon points="367.0,315.0 371.5,319.5 367.0,324.0 362.5,319.5" fill="none" stroke="#800000" stroke-width="1.5"/>
<polygon points="369.0,318.9 373.5,323.4 369.0,327.9 364.5,323.4" fill="none" stroke="#800000" stroke-width="1.5"/>
<polygon points="372.0,321.5 376.5,326.0 372.0,330.5 367.5,326.0" fill="none" stroke="#800000" stroke-width="1.5"/>
<polygon points="375.0,323.9 379.5,328.4 375.0,332.9 370.5,328.4" fill="none" stroke="#800000" stroke-width="1.5"/>
<polygon points="370.5,308.5 375.0,313.0 370.5,317.5 366.0,313.0" fill="none" stroke="#800000" stroke-width="1.5"/>
<polygon points="571.8,423.7 575.8,427.7 571.8,431.7 567.8,427.7" fill="#800000" stroke="none" stroke-width="1"/>
<polygon points="344.5,282.0 346.0,280.5 355.5,282.2 366.0,283.5 380.0,286.3 394.0,290.0 406.2,295.5 418.4,302.7 432.4,311.5 440.0,316.0 448.7,322.9 457.5,330.2 466.2,339.0 475.0,349.0 483.7,356.9 492.4,363.8 501.2,371.2 510.0,377.3 518.7,383.4 527.4,388.7 540.0,395.2 558.7,404.5 584.9,418.0 603.0,426.6 618.7,434.5 628.0,440.8 628.0,448.7 618.7,445.5 603.0,440.8 584.9,433.5 558.7,420.5 540.0,408.5 527.4,400.9 518.7,394.0 510.0,387.0 501.2,380.0 492.4,374.7 483.7,367.7 475.0,360.7 466.2,353.7 457.5,346.7 448.7,339.7 440.0,332.7 432.4,326.0 420.2,319.0 406.2,312.0 390.5,304.1 376.5,299.7 362.5,296.2 355.5,295.3 346.0,292.7 344.5,292.0" fill="#ff0000" />
</g>
<text x="65.6" y="264.7" font-size="20" text-anchor="end" font-family="Liberation Sans, sans-serif" font-weight="bold" >0</text>
<text x="65.6" y="219.5" font-size="20" text-anchor="end" font-family="Liberation Sans, sans-serif" font-weight="bold" >0.2</text>
<text x="65.6" y="174.29999999999998" font-size="20" text-anchor="end" font-family="Liberation Sans, sans-serif" font-weight="bold" >0.4</text>
<text x="65.6" y="129.09999999999997" font-size="20" text-anchor="end" font-family="Liberation Sans, sans-serif" font-weight="bold" >0.6</text>
<text x="65.6" y="83.89999999999999" font-size="20" text-anchor="end" font-family="Liberation Sans, sans-serif" font-weight="bold" >0.8</text>
<text x="65.6" y="38.7" font-size="20" text-anchor="end" font-family="Liberation Sans, sans-serif" font-weight="bold" >1</text>
<text x="65.6" y="520.2" font-size="20" text-anchor="end" font-family="Liberation Sans, sans-serif" font-weight="bold" >0</text>
<text x="65.6" y="475.0" font-size="20" text-anchor="end" font-family="Liberation Sans, sans-serif" font-weight="bold" >0.2</text>
<text x="65.6" y="429.8" font-size="20" text-anchor="end" font-family="Liberation Sans, sans-serif" font-weight="bold" >0.4</text>
<text x="65.6" y="384.59999999999997" font-size="20" text-anchor="end" font-family="Liberation Sans, sans-serif" font-weight="bold" >0.6</text>
<text x="65.6" y="339.4" font-size="20" text-anchor="end" font-family="Liberation Sans, sans-serif" font-weight="bold" >0.8</text>
<text x="65.6" y="294.2" font-size="20" text-anchor="end" font-family="Liberation Sans, sans-serif" font-weight="bold" >1</text>
<text x="75.0" y="539.7" font-size="20" text-anchor="middle" font-family="Liberation Sans, sans-serif" font-weight="bold" >0</text>
<text x="129.6" y="539.7" font-size="20" text-anchor="middle" font-family="Liberation Sans, sans-serif" font-weight="bold" >20</text>
<text x="184.2" y="539.7" font-size="20" text-anchor="middle" font-family="Liberation Sans, sans-serif" font-weight="bold" >40</text>
<text x="238.8" y="539.7" font-size="20" text-anchor="middle" font-family="Liberation Sans, sans-serif" font-weight="bold" >60</text>
<text x="293.4" y="539.7" font-size="20" text-anchor="middle" font-family="Liberation Sans, sans-serif" font-weight="bold" >80</text>
<text x="348.0" y="539.7" font-size="20" text-anchor="middle" font-family="Liberation Sans, sans-serif" font-weight="bold" >100</text>
<text x="402.6" y="539.7" font-size="20" text-anchor="middle" font-family="Liberation Sans, sans-serif" font-weight="bold" >20</text>
<text x="457.2" y="539.7" font-size="20" text-anchor="middle" font-family="Liberation Sans, sans-serif" font-weight="bold" >40</text>
<text x="511.8" y="539.7" font-size="20" text-anchor="middle" font-family="Liberation Sans, sans-serif" font-weight="bold" >60</text>
<text x="566.4" y="539.7" font-size="20" text-anchor="middle" font-family="Liberation Sans, sans-serif" font-weight="bold" >80</text>
<text x="621.0" y="539.7" font-size="20" text-anchor="middle" font-family="Liberation Sans, sans-serif" font-weight="bold" >100</text>
<text transform="translate(20.3,128.25) rotate(-90)" x="0" y="0" font-size="24" text-anchor="middle" font-family="Liberation Sans, sans-serif" font-weight="bold" textLength="240" lengthAdjust="spacingAndGlyphs">Normalized Capacity</text>
<text transform="translate(20.3,383.5) rotate(-90)" x="0" y="0" font-size="24" text-anchor="middle" font-family="Liberation Sans, sans-serif" font-weight="bold" textLength="240" lengthAdjust="spacingAndGlyphs">Normalized Capacity</text>
<text x="207.3" y="565.3" font-size="24" text-anchor="middle" font-family="Liberation Sans, sans-serif" font-weight="bold" textLength="109.4" lengthAdjust="spacingAndGlyphs" >Cycle No.</text>
<text x="480.8" y="565.3" font-size="24" text-anchor="middle" font-family="Liberation Sans, sans-serif" font-weight="bold" textLength="110.2" lengthAdjust="spacingAndGlyphs" >Cycle No.</text>
<text x="94.5" y="247.2" font-size="35" text-anchor="middle" font-family="Liberation Sans, sans-serif" font-weight="bold" textLength="17.9" lengthAdjust="spacingAndGlyphs">a</text>
<text x="370.9" y="248" font-size="35" text-anchor="middle" font-family="Liberation Sans, sans-serif" font-weight="bold" textLength="22.9" lengthAdjust="spacingAndGlyphs">b</text>
<text x="94.8" y="503" font-size="35" text-anchor="middle" font-family="Liberation Sans, sans-serif" font-weight="bold" textLength="21.3" lengthAdjust="spacingAndGlyphs">c</text>
<text x="367.9" y="503" font-size="35" text-anchor="middle" font-family="Liberation Sans, sans-serif" font-weight="bold" textLength="22.3" lengthAdjust="spacingAndGlyphs">d</text>
<rect x="191.9" y="11.7" width="141.2" height="77.3" fill="#fff" stroke="#8a8a8a" stroke-width="1.6"/>
<text x="201.6" y="34" font-size="19.5" text-anchor="start" font-family="Liberation Sans, sans-serif" font-weight="bold" textLength="121.9" lengthAdjust="spacingAndGlyphs" >NB &lt;75 kPa</text>
<text x="222.4" y="57.8" font-size="19" text-anchor="start" font-family="Liberation Sans, sans-serif" font-weight="bold" textLength="93.6" lengthAdjust="spacingAndGlyphs" >FEC:DEC</text>
<text x="222.4" y="81.6" font-size="19" text-anchor="start" font-family="Liberation Sans, sans-serif" font-weight="bold" textLength="104.8" lengthAdjust="spacingAndGlyphs" >FEC:TFEC</text>
<line x1="196.4" y1="50.3" x2="215.7" y2="50.3" stroke="#9900cc" stroke-width="1.3" opacity="0.8"/>
<polygon points="206.0,45.8 207.2,48.7 210.3,48.9 207.9,50.9 208.6,53.9 206.0,52.3 203.4,53.9 204.1,50.9 201.7,48.9 204.8,48.7" fill="#9900cc" />
<line x1="196.4" y1="74.9" x2="215.7" y2="74.9" stroke="#ff00ff" stroke-width="1.3" opacity="0.8"/>
<polygon points="206.0,70.4 207.2,73.3 210.3,73.5 207.9,75.5 208.6,78.5 206.0,76.9 203.4,78.5 204.1,75.5 201.7,73.5 204.8,73.3" fill="#ff00ff" />
<rect x="467.1" y="11.3" width="140.7" height="79.4" fill="#fff" stroke="#8a8a8a" stroke-width="1.6"/>
<text x="476.5" y="34.1" font-size="19.5" text-anchor="start" font-family="Liberation Sans, sans-serif" font-weight="bold" textLength="121.9" lengthAdjust="spacingAndGlyphs" >SB 485 kPa</text>
<text x="497" y="56.6" font-size="19" text-anchor="start" font-family="Liberation Sans, sans-serif" font-weight="bold" textLength="93.5" lengthAdjust="spacingAndGlyphs" >FEC:DEC</text>
<text x="497" y="80.8" font-size="19" text-anchor="start" font-family="Liberation Sans, sans-serif" font-weight="bold" textLength="104.6" lengthAdjust="spacingAndGlyphs" >FEC:TFEC</text>
<rect x="477.2" y="45.8" width="8" height="8" fill="#003333"/>
<rect x="477.2" y="70.2" width="8" height="8" fill="#009933"/>
<rect x="194.5" y="266.6" width="141.5" height="79.4" fill="#fff" stroke="#8a8a8a" stroke-width="1.6"/>
<text x="203.6" y="289.4" font-size="19.5" text-anchor="start" font-family="Liberation Sans, sans-serif" font-weight="bold" textLength="121.9" lengthAdjust="spacingAndGlyphs" >SB 795 kPa</text>
<text x="224.8" y="312.4" font-size="19" text-anchor="start" font-family="Liberation Sans, sans-serif" font-weight="bold" textLength="93.6" lengthAdjust="spacingAndGlyphs" >FEC:DEC</text>
<text x="224.8" y="336.8" font-size="19" text-anchor="start" font-family="Liberation Sans, sans-serif" font-weight="bold" textLength="104.6" lengthAdjust="spacingAndGlyphs" >FEC:TFEC</text>
<polygon points="209.1,301.7 213.6,309.5 204.6,309.5" fill="#336699" stroke="none" stroke-width="1"/>
<polygon points="209.1,326.1 213.6,333.9 204.6,333.9" fill="#00ccff" stroke="none" stroke-width="1"/>
<rect x="466.6" y="266.6" width="145.2" height="79.4" fill="#fff" stroke="#8a8a8a" stroke-width="1.6"/>
<text x="471.8" y="289.4" font-size="19.5" text-anchor="start" font-family="Liberation Sans, sans-serif" font-weight="bold" textLength="133.7" lengthAdjust="spacingAndGlyphs" >SB 1725 kPa</text>
<text x="497" y="312.4" font-size="19" text-anchor="start" font-family="Liberation Sans, sans-serif" font-weight="bold" textLength="93.5" lengthAdjust="spacingAndGlyphs" >FEC:DEC</text>
<text x="497" y="336.8" font-size="19" text-anchor="start" font-family="Liberation Sans, sans-serif" font-weight="bold" textLength="104.6" lengthAdjust="spacingAndGlyphs" >FEC:TFEC</text>
<polygon points="481.2,302.2 485.7,306.7 481.2,311.2 476.7,306.7" fill="#800000" stroke="none" stroke-width="1"/>
<polygon points="481.2,326.6 485.7,331.1 481.2,335.6 476.7,331.1" fill="#ff0000" stroke="none" stroke-width="1"/>
<rect x="742.2" y="426.0" width="56.3" height="19.4" fill="#9900cc" stroke="rgba(0,0,0,0.35)" stroke-width="1"/>
<rect x="742.2" y="445.4" width="56.3" height="65.6" fill="#b240d9" stroke="rgba(0,0,0,0.35)" stroke-width="1"/>
<rect x="798.5" y="326.3" width="56.8" height="69.5" fill="#ff00ff" stroke="rgba(0,0,0,0.35)" stroke-width="1"/>
<rect x="798.5" y="395.8" width="56.8" height="115.2" fill="#ff40ff" stroke="rgba(0,0,0,0.35)" stroke-width="1"/>
<rect x="878.1" y="302.5" width="56.3" height="115.5" fill="#003333" stroke="rgba(0,0,0,0.35)" stroke-width="1"/>
<rect x="878.1" y="418.0" width="56.3" height="93.0" fill="#406666" stroke="rgba(0,0,0,0.35)" stroke-width="1"/>
<rect x="934.4" y="188.4" width="56.3" height="136.8" fill="#009933" stroke="rgba(0,0,0,0.35)" stroke-width="1"/>
<rect x="934.4" y="325.2" width="56.3" height="185.8" fill="#40b266" stroke="rgba(0,0,0,0.35)" stroke-width="1"/>
<rect x="1012.6" y="144.6" width="56.6" height="236.0" fill="#336699" stroke="rgba(0,0,0,0.35)" stroke-width="1"/>
<rect x="1012.6" y="380.6" width="56.6" height="130.4" fill="#668cb2" stroke="rgba(0,0,0,0.35)" stroke-width="1"/>
<rect x="1069.2" y="162.5" width="56.6" height="156.2" fill="#00ccff" stroke="rgba(0,0,0,0.35)" stroke-width="1"/>
<rect x="1069.2" y="318.7" width="56.6" height="192.3" fill="#40d9ff" stroke="rgba(0,0,0,0.35)" stroke-width="1"/>
<rect x="1148.6" y="56.7" width="56.3" height="344.3" fill="#800000" stroke="rgba(0,0,0,0.35)" stroke-width="1"/>
<rect x="1148.6" y="401.0" width="56.3" height="110.0" fill="#a04040" stroke="rgba(0,0,0,0.35)" stroke-width="1"/>
<rect x="1204.9" y="92.9" width="56.2" height="191.3" fill="#ff0000" stroke="rgba(0,0,0,0.35)" stroke-width="1"/>
<rect x="1204.9" y="284.2" width="56.2" height="226.8" fill="#ff4040" stroke="rgba(0,0,0,0.35)" stroke-width="1"/>
<line x1="735.4" y1="511.0" x2="1278.6" y2="511.0" stroke="#222" stroke-width="2.4"/>
<text transform="translate(780.0,511.3) rotate(-90)" x="0" y="0" font-size="30" font-family="Liberation Sans, sans-serif" font-weight="bold" textLength="59.5" lengthAdjust="spacingAndGlyphs">DEC</text>
<g stroke="#333" stroke-opacity="0.75" stroke-width="1.1"><line x1="770.4" y1="419" x2="770.4" y2="433"/><line x1="761.9" y1="419" x2="778.9" y2="419"/><line x1="761.9" y1="433" x2="778.9" y2="433"/></g>
<g stroke="#333" stroke-opacity="0.75" stroke-width="1.1"><line x1="770.4" y1="440" x2="770.4" y2="451"/><line x1="761.9" y1="440" x2="778.9" y2="440"/><line x1="761.9" y1="451" x2="778.9" y2="451"/></g>
<text transform="translate(836.5,511.3) rotate(-90)" x="0" y="0" font-size="30" font-family="Liberation Sans, sans-serif" font-weight="bold" textLength="75.5" lengthAdjust="spacingAndGlyphs">TFEC</text>
<g stroke="#333" stroke-opacity="0.75" stroke-width="1.1"><line x1="826.9" y1="300.5" x2="826.9" y2="352.4"/><line x1="818.4" y1="300.5" x2="835.4" y2="300.5"/><line x1="818.4" y1="352.4" x2="835.4" y2="352.4"/></g>
<g stroke="#333" stroke-opacity="0.75" stroke-width="1.1"><line x1="826.9" y1="390" x2="826.9" y2="401"/><line x1="818.4" y1="390" x2="835.4" y2="390"/><line x1="818.4" y1="401" x2="835.4" y2="401"/></g>
<text transform="translate(915.9,511.3) rotate(-90)" x="0" y="0" font-size="30" font-family="Liberation Sans, sans-serif" font-weight="bold" textLength="59.5" lengthAdjust="spacingAndGlyphs">DEC</text>
<g stroke="#333" stroke-opacity="0.75" stroke-width="1.1"><line x1="906.2" y1="272.6" x2="906.2" y2="332.4"/><line x1="897.8" y1="272.6" x2="914.8" y2="272.6"/><line x1="897.8" y1="332.4" x2="914.8" y2="332.4"/></g>
<g stroke="#333" stroke-opacity="0.75" stroke-width="1.1"><line x1="906.2" y1="411.7" x2="906.2" y2="422"/><line x1="897.8" y1="411.7" x2="914.8" y2="411.7"/><line x1="897.8" y1="422" x2="914.8" y2="422"/></g>
<text transform="translate(972.1,511.3) rotate(-90)" x="0" y="0" font-size="30" font-family="Liberation Sans, sans-serif" font-weight="bold" textLength="75.5" lengthAdjust="spacingAndGlyphs">TFEC</text>
<g stroke="#333" stroke-opacity="0.75" stroke-width="1.1"><line x1="962.5" y1="161" x2="962.5" y2="216.2"/><line x1="954.0" y1="161" x2="971.0" y2="161"/><line x1="954.0" y1="216.2" x2="971.0" y2="216.2"/></g>
<g stroke="#333" stroke-opacity="0.75" stroke-width="1.1"><line x1="962.5" y1="301.5" x2="962.5" y2="348.8"/><line x1="954.0" y1="301.5" x2="971.0" y2="301.5"/><line x1="954.0" y1="348.8" x2="971.0" y2="348.8"/></g>
<text transform="translate(1050.5,511.3) rotate(-90)" x="0" y="0" font-size="30" font-family="Liberation Sans, sans-serif" font-weight="bold" textLength="59.5" lengthAdjust="spacingAndGlyphs">DEC</text>
<g stroke="#333" stroke-opacity="0.75" stroke-width="1.1"><line x1="1040.9" y1="131.5" x2="1040.9" y2="157.8"/><line x1="1032.4" y1="131.5" x2="1049.4" y2="131.5"/><line x1="1032.4" y1="157.8" x2="1049.4" y2="157.8"/></g>
<g stroke="#333" stroke-opacity="0.75" stroke-width="1.1"><line x1="1040.9" y1="367.5" x2="1040.9" y2="393.7"/><line x1="1032.4" y1="367.5" x2="1049.4" y2="367.5"/><line x1="1032.4" y1="393.7" x2="1049.4" y2="393.7"/></g>
<text transform="translate(1107.1,511.3) rotate(-90)" x="0" y="0" font-size="30" font-family="Liberation Sans, sans-serif" font-weight="bold" textLength="75.5" lengthAdjust="spacingAndGlyphs">TFEC</text>
<g stroke="#333" stroke-opacity="0.75" stroke-width="1.1"><line x1="1097.5" y1="131.5" x2="1097.5" y2="192.4"/><line x1="1089.0" y1="131.5" x2="1106.0" y2="131.5"/><line x1="1089.0" y1="192.4" x2="1106.0" y2="192.4"/></g>
<g stroke="#333" stroke-opacity="0.75" stroke-width="1.1"><line x1="1097.5" y1="282.6" x2="1097.5" y2="354.9"/><line x1="1089.0" y1="282.6" x2="1106.0" y2="282.6"/><line x1="1089.0" y1="354.9" x2="1106.0" y2="354.9"/></g>
<text transform="translate(1186.3,511.3) rotate(-90)" x="0" y="0" font-size="30" font-family="Liberation Sans, sans-serif" font-weight="bold" textLength="59.5" lengthAdjust="spacingAndGlyphs">DEC</text>
<g stroke="#333" stroke-opacity="0.75" stroke-width="1.1"><line x1="1176.8" y1="31" x2="1176.8" y2="81.2"/><line x1="1168.2" y1="31" x2="1185.2" y2="31"/><line x1="1168.2" y1="81.2" x2="1185.2" y2="81.2"/></g>
<g stroke="#333" stroke-opacity="0.75" stroke-width="1.1"><line x1="1176.8" y1="385.9" x2="1176.8" y2="415.8"/><line x1="1168.2" y1="385.9" x2="1185.2" y2="385.9"/><line x1="1168.2" y1="415.8" x2="1185.2" y2="415.8"/></g>
<text transform="translate(1242.6,511.3) rotate(-90)" x="0" y="0" font-size="30" font-family="Liberation Sans, sans-serif" font-weight="bold" textLength="75.5" lengthAdjust="spacingAndGlyphs">TFEC</text>
<line x1="736.6" y1="24.5" x2="736.6" y2="512.2" stroke="#222" stroke-width="2.4"/>
<line x1="736.6" y1="511.0" x2="744.6" y2="511.0" stroke="#222" stroke-width="2"/>
<text x="727.6" y="518.0" font-size="20" text-anchor="end" font-family="Liberation Sans, sans-serif" font-weight="bold" >0</text>
<line x1="736.6" y1="450.3" x2="741.6" y2="450.3" stroke="#222" stroke-width="2"/>
<line x1="736.6" y1="389.7" x2="744.6" y2="389.7" stroke="#222" stroke-width="2"/>
<text x="727.6" y="396.7" font-size="20" text-anchor="end" font-family="Liberation Sans, sans-serif" font-weight="bold" >20</text>
<line x1="736.6" y1="329.0" x2="741.6" y2="329.0" stroke="#222" stroke-width="2"/>
<line x1="736.6" y1="268.4" x2="744.6" y2="268.4" stroke="#222" stroke-width="2"/>
<text x="727.6" y="275.4" font-size="20" text-anchor="end" font-family="Liberation Sans, sans-serif" font-weight="bold" >40</text>
<line x1="736.6" y1="207.7" x2="741.6" y2="207.7" stroke="#222" stroke-width="2"/>
<line x1="736.6" y1="147.0" x2="744.6" y2="147.0" stroke="#222" stroke-width="2"/>
<text x="727.6" y="154.0" font-size="20" text-anchor="end" font-family="Liberation Sans, sans-serif" font-weight="bold" >60</text>
<line x1="736.6" y1="86.4" x2="741.6" y2="86.4" stroke="#222" stroke-width="2"/>
<line x1="736.6" y1="25.7" x2="744.6" y2="25.7" stroke="#222" stroke-width="2"/>
<text x="727.6" y="32.7" font-size="20" text-anchor="end" font-family="Liberation Sans, sans-serif" font-weight="bold" >80</text>
<text transform="translate(688.8,266.6) rotate(-90)" x="0" y="0" font-size="25" text-anchor="middle" font-family="Liberation Sans, sans-serif" font-weight="bold" textLength="129.7" lengthAdjust="spacingAndGlyphs">Cycle No.</text>
<text x="798.3" y="536.3" font-size="21" text-anchor="middle" font-family="Liberation Sans, sans-serif" font-weight="bold" textLength="82.6" lengthAdjust="spacingAndGlyphs" >&lt;75 kPa</text>
<text x="933.4" y="536.3" font-size="21" text-anchor="middle" font-family="Liberation Sans, sans-serif" font-weight="bold" textLength="83.2" lengthAdjust="spacingAndGlyphs" >485 kPa</text>
<text x="1068.3" y="536.3" font-size="21" text-anchor="middle" font-family="Liberation Sans, sans-serif" font-weight="bold" textLength="82.6" lengthAdjust="spacingAndGlyphs" >795 kPa</text>
<text x="1206.8" y="536.3" font-size="21" text-anchor="middle" font-family="Liberation Sans, sans-serif" font-weight="bold" textLength="93.8" lengthAdjust="spacingAndGlyphs" >1725 kPa</text>
<text x="764.5" y="40.2" font-size="37" text-anchor="middle" font-family="Liberation Sans, sans-serif" font-weight="bold" textLength="21" lengthAdjust="spacingAndGlyphs">e</text>
<rect x="757.8" y="53.2" width="232.8" height="89.5" fill="#fff" stroke="#8a8a8a" stroke-width="1.6"/>
<text x="874" y="80.2" font-size="20.5" text-anchor="middle" font-family="Liberation Sans, sans-serif" font-weight="bold" textLength="66.5" lengthAdjust="spacingAndGlyphs" >FEC:x</text>
<rect x="766.6" y="86.4" width="76.8" height="22.1" fill="#555"/>
<rect x="766.6" y="113.4" width="76.8" height="21.8" fill="#000"/>
<text x="851.6" y="103.6" font-size="20" text-anchor="start" font-family="Liberation Sans, sans-serif" font-weight="bold" textLength="129.3" lengthAdjust="spacingAndGlyphs" >80% Capacity</text>
<text x="851.6" y="130.9" font-size="20" text-anchor="start" font-family="Liberation Sans, sans-serif" font-weight="bold" textLength="129.3" lengthAdjust="spacingAndGlyphs" >50% Capacity</text>
</svg></body></html>
